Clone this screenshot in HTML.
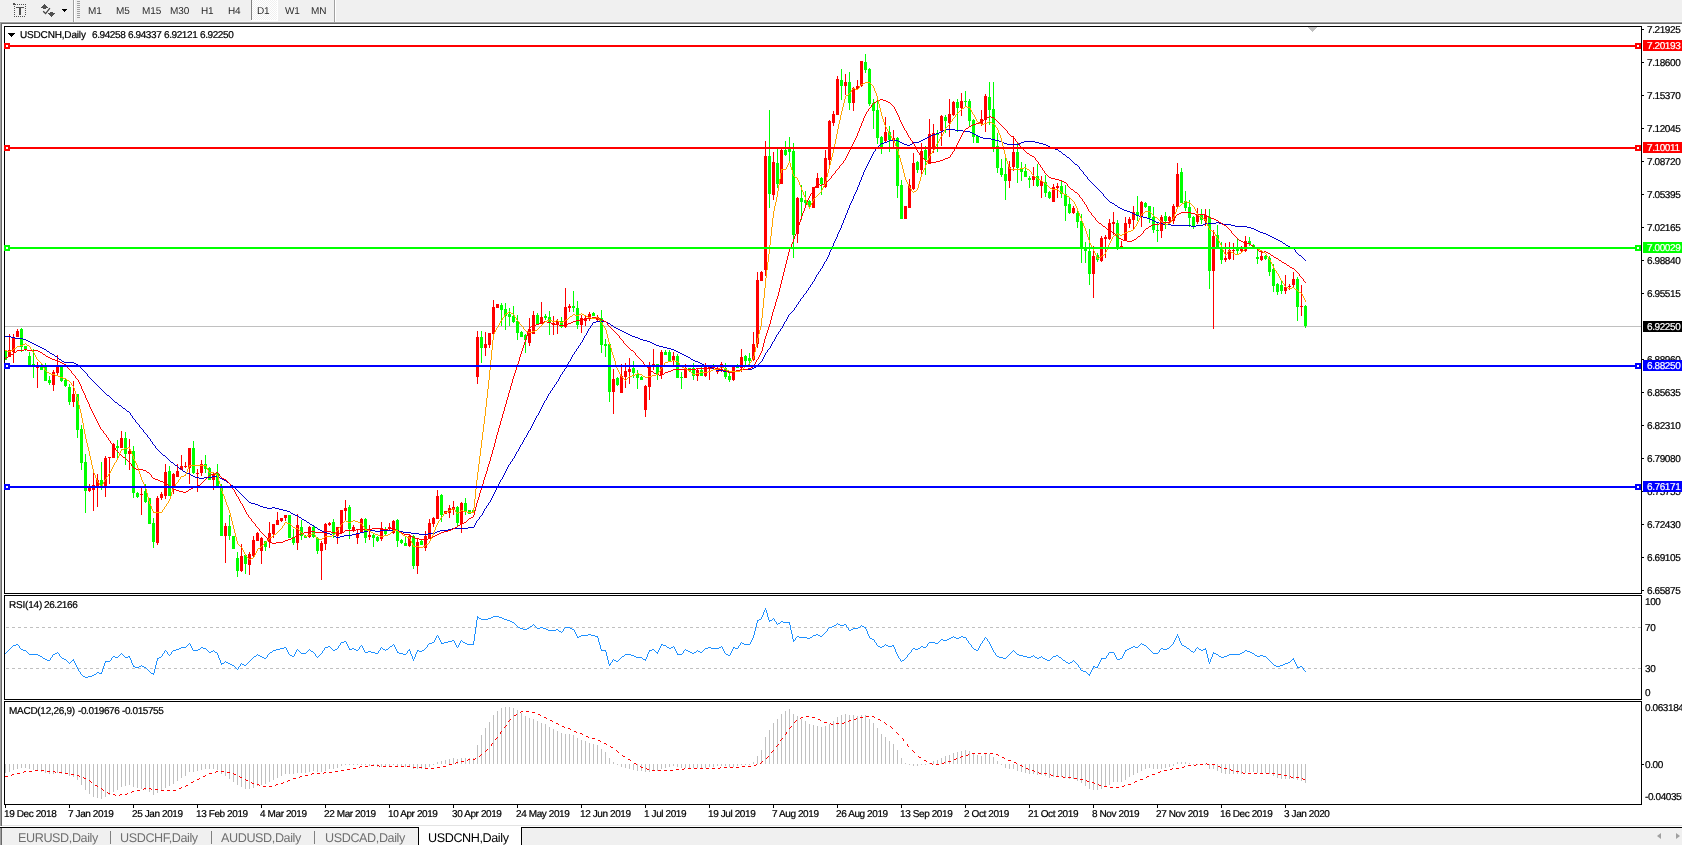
<!DOCTYPE html><html><head><meta charset="utf-8"><title>USDCNH,Daily</title><style>
html,body{margin:0;padding:0}
body{width:1682px;height:845px;overflow:hidden;background:#f0f0f0;font-family:"Liberation Sans", sans-serif;position:relative;text-rendering:geometricPrecision}
.a{position:absolute;white-space:nowrap}
.t{font-size:10px;color:#000;line-height:11px;letter-spacing:-0.4px;margin-top:1px;-webkit-text-stroke:0.22px #000}
.w{letter-spacing:-0.17px}
.tb{font-size:10px;color:#2a2a2a;line-height:12px;top:6px;will-change:opacity;opacity:.999;letter-spacing:-0.1px}
.tab{font-size:12.6px;color:#707070;line-height:14px;top:831px;letter-spacing:-0.4px}
.pl{left:1647px}
.box{-webkit-text-stroke:0.22px #fff;margin-top:0;padding-top:1px;left:1643px;width:39px;height:11px;color:#fff;padding-left:4px;box-sizing:border-box}
svg{position:absolute;left:0;top:0}

</style></head><body>
<div class="a" style="left:0;top:21px;width:1682px;height:1px;background:#f8f8f8"></div>
<div class="a" style="left:0;top:22px;width:1682px;height:1px;background:#a0a0a0"></div>
<div class="a" style="left:1px;top:23px;width:1681px;height:1px;background:#696969"></div>
<div class="a" style="left:0;top:22px;width:1px;height:805px;background:#a0a0a0"></div>
<div class="a" style="left:1px;top:23px;width:1px;height:804px;background:#696969"></div>
<div class="a" style="left:2px;top:24px;width:1680px;height:802px;background:#fff"></div>
<div class="a" style="left:2px;top:825px;width:1680px;height:1px;background:#e3e3e3"></div>
<div class="a" style="left:0;top:826px;width:1682px;height:1px;background:#fff"></div>
<div class="a" style="left:0;top:827px;width:1682px;height:1px;background:#000"></div>
<div class="a" style="left:0;top:828px;width:1px;height:17px;background:#a0a0a0"></div><div class="a" style="left:1px;top:828px;width:1px;height:17px;background:#696969"></div>
<div class="a" style="left:73px;top:0;width:1px;height:22px;background:#a0a0a0"></div><div class="a" style="left:74px;top:0;width:1px;height:22px;background:#fff"></div>
<div class="a" style="left:77px;top:1px;width:3px;height:18px;background:repeating-linear-gradient(#a0a0a0 0 1px,#f0f0f0 1px 2px)"></div>
<div class="a" style="left:251px;top:0;width:26px;height:20px;background:repeating-conic-gradient(#fff 0 25%,#f0f0f0 0 50%) 0 0/2px 2px;border-left:1px solid #808080;box-sizing:border-box"></div><div class="a" style="left:251px;top:20px;width:27px;height:1px;background:#fff"></div><div class="a" style="left:277px;top:0;width:1px;height:20px;background:#fff"></div>
<div class="a" style="left:334px;top:0;width:1px;height:22px;background:#a0a0a0"></div><div class="a" style="left:335px;top:0;width:1px;height:22px;background:#fff"></div>
<div class="a tb" style="left:88px">M1</div>
<div class="a tb" style="left:116px">M5</div>
<div class="a tb" style="left:142px">M15</div>
<div class="a tb" style="left:170px">M30</div>
<div class="a tb" style="left:201px">H1</div>
<div class="a tb" style="left:228px">H4</div>
<div class="a tb" style="left:257px">D1</div>
<div class="a tb" style="left:285px">W1</div>
<div class="a tb" style="left:311px">MN</div>
<svg width="72" height="22" viewBox="0 0 72 22" shape-rendering="crispEdges"><path d="M13 3h2v1h-2zM13 4h3v1h-3zM17 4h1v1h-1zM19 4h1v1h-1zM21 4h1v1h-1zM23 4h1v1h-1zM25 4h1v1h-1zM14 6h1v1h-1zM14 8h1v1h-1zM14 10h1v1h-1zM14 12h1v1h-1zM14 14h1v1h-1zM14 16h1v1h-1zM25 6h1v1h-1zM25 8h1v1h-1zM25 10h1v1h-1zM25 12h1v1h-1zM25 14h1v1h-1zM16 16h1v1h-1zM18 16h1v1h-1zM20 16h1v1h-1zM22 16h1v1h-1zM24 16h1v1h-1z" fill="#505050"/><path d="M16 7h8v1h-8zM19 8h2v7h-2z" fill="#505050"/><path d="M44 4h1v1h-1zM43 5h3v1h-3zM42 6h5v1h-5zM41 7h7v1h-7zM43 8h3v1h-3z" fill="#505050"/><path d="M50 12h3v1h-3zM48 13h7v1h-7zM49 14h5v1h-5zM50 15h3v1h-3zM51 16h1v1h-1z" fill="#505050"/><path d="M43.2 11.2l2.4 2.4l4.3-5.4" fill="none" stroke="#404040" stroke-width="1.3" shape-rendering="auto"/><path d="M62 9h5v1h-5zM63 10h3v1h-3zM64 11h1v1h-1z" fill="#000"/></svg>
<svg width="1682" height="845" viewBox="0 0 1682 845" shape-rendering="crispEdges"><rect x="5" y="326" width="1636" height="1" fill="#c0c0c0"/><path d="M5 351h1v9h-1zM4 351h3v9h-3zM21 328h1v24h-1zM20 329h3v18h-3zM25 346h1v5h-1zM24 346h3v4h-3zM29 352h1v13h-1zM28 356h3v9h-3zM33 349h1v29h-1zM32 364h3v2h-3zM41 363h1v7h-1zM40 366h3v4h-3zM45 363h1v18h-1zM44 367h3v14h-3zM49 376h1v9h-1zM48 380h3v3h-3zM61 367h1v15h-1zM60 367h3v14h-3zM65 378h1v9h-1zM64 380h3v6h-3zM69 384h1v21h-1zM68 387h3v15h-3zM77 394h1v44h-1zM76 394h3v36h-3zM81 425h1v45h-1zM80 429h3v34h-3zM85 454h1v59h-1zM84 462h3v29h-3zM101 462h1v28h-1zM100 480h3v6h-3zM117 440h1v18h-1zM116 446h3v2h-3zM125 432h1v33h-1zM124 438h3v16h-3zM133 446h1v52h-1zM132 451h3v42h-3zM137 492h1v6h-1zM136 493h3v4h-3zM145 484h1v19h-1zM144 491h3v11h-3zM149 498h1v26h-1zM148 498h3v26h-3zM153 518h1v30h-1zM152 523h3v19h-3zM169 466h1v30h-1zM168 471h3v25h-3zM193 441h1v33h-1zM192 448h3v25h-3zM205 455h1v18h-1zM204 464h3v5h-3zM209 467h1v13h-1zM208 468h3v12h-3zM217 464h1v22h-1zM216 473h3v13h-3zM221 484h1v52h-1zM220 486h3v50h-3zM229 515h1v25h-1zM228 526h3v10h-3zM233 536h1v13h-1zM232 536h3v13h-3zM237 552h1v25h-1zM236 558h3v13h-3zM245 554h1v20h-1zM244 555h3v9h-3zM265 541h1v10h-1zM264 541h3v6h-3zM289 515h1v23h-1zM288 515h3v23h-3zM293 529h1v16h-1zM292 537h3v6h-3zM301 520h1v20h-1zM300 527h3v9h-3zM305 535h1v3h-1zM304 536h3v2h-3zM313 526h1v12h-1zM312 527h3v10h-3zM317 537h1v17h-1zM316 538h3v13h-3zM333 519h1v19h-1zM332 522h3v12h-3zM349 505h1v34h-1zM348 507h3v22h-3zM365 518h1v25h-1zM364 519h3v19h-3zM373 533h1v14h-1zM372 535h3v3h-3zM377 536h1v6h-1zM376 537h3v4h-3zM385 527h1v8h-1zM384 530h3v4h-3zM397 519h1v28h-1zM396 520h3v21h-3zM401 539h1v5h-1zM400 540h3v3h-3zM405 537h1v9h-1zM404 543h3v3h-3zM413 535h1v34h-1zM412 536h3v30h-3zM421 539h1v6h-1zM420 541h3v4h-3zM441 494h1v28h-1zM440 495h3v20h-3zM457 506h1v20h-1zM456 507h3v16h-3zM465 498h1v17h-1zM464 503h3v8h-3zM469 510h1v4h-1zM468 510h3v4h-3zM473 509h1v4h-1zM472 510h3v2h-3zM481 331h1v32h-1zM480 337h3v11h-3zM501 303h1v23h-1zM500 305h3v5h-3zM505 303h1v27h-1zM504 309h3v7h-3zM509 308h1v18h-1zM508 314h3v3h-3zM513 306h1v17h-1zM512 316h3v6h-3zM517 315h1v25h-1zM516 321h3v12h-3zM521 331h1v6h-1zM520 332h3v5h-3zM525 334h1v19h-1zM524 335h3v5h-3zM537 313h1v11h-1zM536 315h3v9h-3zM545 314h1v6h-1zM544 316h3v2h-3zM549 311h1v24h-1zM548 317h3v6h-3zM561 317h1v11h-1zM560 321h3v6h-3zM573 291h1v21h-1zM572 306h3v2h-3zM577 301h1v28h-1zM576 308h3v17h-3zM593 312h1v4h-1zM592 313h3v3h-3zM601 310h1v43h-1zM600 318h3v27h-3zM605 339h1v18h-1zM604 344h3v2h-3zM609 344h1v58h-1zM608 344h3v48h-3zM617 377h1v9h-1zM616 378h3v7h-3zM633 361h1v17h-1zM632 368h3v5h-3zM637 370h1v19h-1zM636 374h3v4h-3zM641 376h1v4h-1zM640 377h3v3h-3zM657 364h1v16h-1zM656 364h3v10h-3zM665 350h1v5h-1zM664 352h3v3h-3zM669 350h1v12h-1zM668 352h3v9h-3zM677 354h1v24h-1zM676 356h3v22h-3zM681 372h1v17h-1zM680 377h3v1h-3zM689 368h1v4h-1zM688 368h3v3h-3zM693 363h1v17h-1zM692 368h3v8h-3zM701 367h1v9h-1zM700 370h3v6h-3zM713 364h1v4h-1zM712 365h3v3h-3zM725 363h1v16h-1zM724 368h3v9h-3zM729 372h1v10h-1zM728 376h3v4h-3zM737 364h1v4h-1zM736 365h3v3h-3zM745 355h1v10h-1zM744 356h3v5h-3zM749 353h1v13h-1zM748 358h3v3h-3zM769 110h1v98h-1zM768 156h3v38h-3zM777 149h1v39h-1zM776 163h3v21h-3zM785 141h1v15h-1zM784 150h3v5h-3zM789 137h1v24h-1zM788 148h3v4h-3zM793 143h1v115h-1zM792 151h3v84h-3zM801 185h1v35h-1zM800 198h3v4h-3zM805 191h1v15h-1zM804 200h3v3h-3zM809 200h1v7h-1zM808 201h3v4h-3zM821 177h1v18h-1zM820 178h3v6h-3zM841 69h1v31h-1zM840 80h3v6h-3zM849 72h1v38h-1zM848 82h3v21h-3zM865 54h1v19h-1zM864 62h3v8h-3zM869 68h1v38h-1zM868 69h3v35h-3zM873 99h1v30h-1zM872 103h3v8h-3zM877 101h1v43h-1zM876 110h3v28h-3zM881 136h1v18h-1zM880 137h3v10h-3zM889 126h1v26h-1zM888 132h3v8h-3zM897 137h1v61h-1zM896 138h3v48h-3zM901 180h1v39h-1zM900 185h3v34h-3zM917 161h1v12h-1zM916 162h3v8h-3zM925 146h1v29h-1zM924 150h3v10h-3zM937 130h1v22h-1zM936 133h3v2h-3zM945 115h1v18h-1zM944 117h3v4h-3zM957 99h1v33h-1zM956 102h3v6h-3zM965 91h1v15h-1zM964 101h3v1h-3zM969 99h1v27h-1zM968 101h3v20h-3zM973 119h1v24h-1zM972 120h3v17h-3zM977 135h1v8h-1zM976 136h3v7h-3zM989 82h1v43h-1zM988 97h3v13h-3zM993 82h1v70h-1zM992 109h3v38h-3zM997 133h1v40h-1zM996 146h3v22h-3zM1001 159h1v18h-1zM1000 168h3v7h-3zM1005 156h1v44h-1zM1004 174h3v7h-3zM1017 143h1v40h-1zM1016 152h3v16h-3zM1021 162h1v19h-1zM1020 168h3v4h-3zM1025 164h1v13h-1zM1024 171h3v6h-3zM1029 176h1v12h-1zM1028 178h3v2h-3zM1037 164h1v23h-1zM1036 176h3v10h-3zM1045 175h1v22h-1zM1044 182h3v11h-3zM1049 191h1v8h-1zM1048 192h3v6h-3zM1061 180h1v18h-1zM1060 186h3v8h-3zM1065 185h1v36h-1zM1064 194h3v12h-3zM1069 198h1v16h-1zM1068 204h3v9h-3zM1077 210h1v18h-1zM1076 213h3v9h-3zM1081 214h1v49h-1zM1080 221h3v27h-3zM1085 242h1v21h-1zM1084 248h3v3h-3zM1089 229h1v56h-1zM1088 251h3v23h-3zM1097 253h1v9h-1zM1096 255h3v5h-3zM1117 220h1v30h-1zM1116 223h3v24h-3zM1137 196h1v25h-1zM1136 212h3v4h-3zM1145 202h1v6h-1zM1144 203h3v4h-3zM1149 206h1v17h-1zM1148 206h3v12h-3zM1153 207h1v26h-1zM1152 217h3v13h-3zM1157 223h1v19h-1zM1156 230h3v1h-3zM1165 212h1v17h-1zM1164 216h3v5h-3zM1181 168h1v35h-1zM1180 172h3v31h-3zM1185 191h1v20h-1zM1184 201h3v7h-3zM1189 200h1v27h-1zM1188 207h3v11h-3zM1193 216h1v13h-1zM1192 217h3v9h-3zM1201 209h1v15h-1zM1200 214h3v6h-3zM1209 209h1v80h-1zM1208 217h3v54h-3zM1217 225h1v23h-1zM1216 235h3v13h-3zM1221 242h1v22h-1zM1220 248h3v12h-3zM1237 238h1v17h-1zM1236 248h3v3h-3zM1249 237h1v9h-1zM1248 241h3v3h-3zM1253 244h1v5h-1zM1252 245h3v3h-3zM1257 249h1v15h-1zM1256 257h3v2h-3zM1265 255h1v5h-1zM1264 256h3v3h-3zM1269 256h1v20h-1zM1268 258h3v14h-3zM1273 264h1v28h-1zM1272 269h3v17h-3zM1277 283h1v12h-1zM1276 284h3v8h-3zM1281 280h1v14h-1zM1280 285h3v6h-3zM1297 277h1v44h-1zM1296 279h3v28h-3zM1305 305h1v23h-1zM1304 306h3v20h-3z" fill="#00ff00"/><path d="M9 334h1v23h-1zM8 350h3v7h-3zM13 334h1v29h-1zM12 337h3v15h-3zM17 329h1v8h-1zM16 331h3v6h-3zM37 362h1v26h-1zM36 366h3v2h-3zM53 370h1v21h-1zM52 372h3v13h-3zM57 355h1v21h-1zM56 367h3v6h-3zM73 381h1v26h-1zM72 394h3v8h-3zM89 484h1v8h-1zM88 488h3v3h-3zM93 473h1v38h-1zM92 485h3v5h-3zM97 474h1v33h-1zM96 480h3v6h-3zM105 456h1v41h-1zM104 458h3v28h-3zM109 457h1v27h-1zM108 457h3v1h-3zM113 443h1v15h-1zM112 444h3v14h-3zM121 431h1v17h-1zM120 438h3v10h-3zM129 439h1v31h-1zM128 451h3v3h-3zM141 488h1v27h-1zM140 494h3v1h-3zM157 496h1v49h-1zM156 498h3v45h-3zM161 492h1v8h-1zM160 494h3v4h-3zM165 464h1v35h-1zM164 472h3v24h-3zM173 473h1v21h-1zM172 474h3v13h-3zM177 464h1v13h-1zM176 471h3v6h-3zM181 455h1v15h-1zM180 466h3v4h-3zM185 462h1v6h-1zM184 466h3v1h-3zM189 448h1v36h-1zM188 448h3v20h-3zM197 469h1v23h-1zM196 473h3v1h-3zM201 460h1v16h-1zM200 464h3v9h-3zM213 473h1v17h-1zM212 474h3v6h-3zM225 523h1v40h-1zM224 526h3v10h-3zM241 544h1v28h-1zM240 556h3v15h-3zM249 552h1v23h-1zM248 554h3v11h-3zM253 536h1v22h-1zM252 540h3v16h-3zM257 532h1v9h-1zM256 533h3v8h-3zM261 537h1v27h-1zM260 538h3v13h-3zM269 522h1v26h-1zM268 533h3v9h-3zM273 524h1v14h-1zM272 524h3v10h-3zM277 512h1v13h-1zM276 520h3v5h-3zM281 518h1v4h-1zM280 518h3v3h-3zM285 515h1v6h-1zM284 515h3v3h-3zM297 514h1v36h-1zM296 525h3v18h-3zM309 526h1v12h-1zM308 527h3v10h-3zM321 541h1v39h-1zM320 543h3v8h-3zM325 523h1v27h-1zM324 524h3v20h-3zM329 522h1v4h-1zM328 523h3v2h-3zM337 527h1v17h-1zM336 527h3v9h-3zM341 510h1v24h-1zM340 510h3v23h-3zM345 500h1v20h-1zM344 508h3v3h-3zM353 525h1v7h-1zM352 527h3v3h-3zM357 529h1v15h-1zM356 533h3v5h-3zM361 518h1v15h-1zM360 519h3v13h-3zM369 525h1v15h-1zM368 535h3v2h-3zM381 522h1v19h-1zM380 528h3v11h-3zM389 523h1v7h-1zM388 527h3v2h-3zM393 520h1v14h-1zM392 521h3v12h-3zM409 534h1v13h-1zM408 536h3v10h-3zM417 538h1v36h-1zM416 542h3v24h-3zM425 531h1v20h-1zM424 536h3v12h-3zM429 519h1v20h-1zM428 523h3v15h-3zM433 517h1v10h-1zM432 518h3v6h-3zM437 490h1v29h-1zM436 496h3v23h-3zM445 511h1v3h-1zM444 511h3v3h-3zM449 505h1v13h-1zM448 508h3v5h-3zM453 501h1v14h-1zM452 507h3v2h-3zM461 502h1v31h-1zM460 503h3v21h-3zM477 331h1v53h-1zM476 337h3v40h-3zM485 332h1v24h-1zM484 344h3v4h-3zM489 333h1v15h-1zM488 333h3v12h-3zM493 300h1v34h-1zM492 307h3v27h-3zM497 304h1v4h-1zM496 304h3v4h-3zM529 318h1v28h-1zM528 329h3v14h-3zM533 311h1v23h-1zM532 315h3v19h-3zM541 302h1v22h-1zM540 317h3v7h-3zM553 316h1v19h-1zM552 323h3v2h-3zM557 319h1v15h-1zM556 321h3v4h-3zM565 288h1v40h-1zM564 307h3v20h-3zM569 304h1v8h-1zM568 306h3v2h-3zM581 315h1v18h-1zM580 318h3v7h-3zM585 315h1v11h-1zM584 318h3v3h-3zM589 312h1v9h-1zM588 314h3v3h-3zM597 315h1v6h-1zM596 317h3v3h-3zM613 369h1v45h-1zM612 379h3v13h-3zM621 364h1v29h-1zM620 376h3v17h-3zM625 363h1v25h-1zM624 371h3v6h-3zM629 358h1v26h-1zM628 369h3v3h-3zM645 385h1v32h-1zM644 386h3v24h-3zM649 362h1v38h-1zM648 366h3v21h-3zM653 349h1v21h-1zM652 364h3v2h-3zM661 350h1v29h-1zM660 352h3v23h-3zM673 352h1v14h-1zM672 356h3v4h-3zM685 364h1v14h-1zM684 368h3v10h-3zM697 368h1v13h-1zM696 370h3v6h-3zM705 363h1v14h-1zM704 367h3v9h-3zM709 365h1v15h-1zM708 366h3v2h-3zM717 366h1v8h-1zM716 368h3v4h-3zM721 362h1v10h-1zM720 364h3v3h-3zM733 366h1v15h-1zM732 367h3v13h-3zM741 349h1v23h-1zM740 357h3v11h-3zM753 332h1v29h-1zM752 344h3v16h-3zM757 272h1v76h-1zM756 280h3v64h-3zM761 271h1v10h-1zM760 272h3v9h-3zM765 141h1v135h-1zM764 156h3v114h-3zM773 152h1v48h-1zM772 162h3v33h-3zM781 149h1v35h-1zM780 150h3v34h-3zM797 197h1v46h-1zM796 198h3v36h-3zM813 187h1v21h-1zM812 187h3v21h-3zM817 173h1v15h-1zM816 178h3v10h-3zM825 150h1v38h-1zM824 158h3v29h-3zM829 120h1v45h-1zM828 121h3v39h-3zM833 111h1v15h-1zM832 114h3v9h-3zM837 76h1v39h-1zM836 79h3v36h-3zM845 74h1v21h-1zM844 82h3v4h-3zM853 87h1v24h-1zM852 88h3v15h-3zM857 80h1v10h-1zM856 86h3v3h-3zM861 61h1v26h-1zM860 61h3v25h-3zM885 117h1v25h-1zM884 132h3v9h-3zM893 130h1v18h-1zM892 138h3v2h-3zM905 206h1v13h-1zM904 206h3v13h-3zM909 179h1v29h-1zM908 185h3v23h-3zM913 153h1v37h-1zM912 163h3v26h-3zM921 143h1v34h-1zM920 151h3v19h-3zM929 119h1v45h-1zM928 134h3v30h-3zM933 124h1v29h-1zM932 133h3v15h-3zM941 115h1v31h-1zM940 116h3v15h-3zM949 99h1v38h-1zM948 114h3v9h-3zM953 101h1v15h-1zM952 102h3v13h-3zM961 93h1v23h-1zM960 101h3v7h-3zM981 110h1v16h-1zM980 119h3v5h-3zM985 94h1v38h-1zM984 96h3v24h-3zM1009 161h1v27h-1zM1008 167h3v14h-3zM1013 136h1v35h-1zM1012 152h3v15h-3zM1033 167h1v19h-1zM1032 176h3v4h-3zM1041 176h1v22h-1zM1040 181h3v5h-3zM1053 184h1v18h-1zM1052 187h3v15h-3zM1057 183h1v15h-1zM1056 186h3v2h-3zM1073 206h1v8h-1zM1072 208h3v5h-3zM1093 246h1v52h-1zM1092 256h3v18h-3zM1101 236h1v26h-1zM1100 238h3v23h-3zM1105 235h1v23h-1zM1104 237h3v2h-3zM1109 219h1v21h-1zM1108 223h3v16h-3zM1113 212h1v23h-1zM1112 222h3v2h-3zM1121 241h1v7h-1zM1120 246h3v1h-3zM1125 217h1v24h-1zM1124 223h3v17h-3zM1129 217h1v11h-1zM1128 219h3v5h-3zM1133 206h1v24h-1zM1132 212h3v8h-3zM1141 201h1v26h-1zM1140 202h3v15h-3zM1161 215h1v23h-1zM1160 217h3v14h-3zM1169 216h1v6h-1zM1168 217h3v4h-3zM1173 204h1v20h-1zM1172 206h3v15h-3zM1177 163h1v44h-1zM1176 174h3v33h-3zM1197 208h1v16h-1zM1196 214h3v8h-3zM1205 209h1v17h-1zM1204 215h3v6h-3zM1213 230h1v99h-1zM1212 236h3v35h-3zM1225 243h1v19h-1zM1224 258h3v2h-3zM1229 242h1v18h-1zM1228 250h3v9h-3zM1233 243h1v17h-1zM1232 250h3v1h-3zM1241 246h1v6h-1zM1240 249h3v2h-3zM1245 236h1v16h-1zM1244 241h3v10h-3zM1261 251h1v10h-1zM1260 256h3v4h-3zM1285 275h1v19h-1zM1284 287h3v4h-3zM1289 284h1v6h-1zM1288 286h3v1h-3zM1293 272h1v15h-1zM1292 279h3v6h-3zM1301 285h1v31h-1zM1300 306h3v1h-3z" fill="#ff0000"/><path d="M87 374h1v2h-1zM130 413h1v2h-1zM132 416h1v2h-1zM135 420h1v2h-1zM139 425h1v2h-1zM143 430h1v2h-1zM147 435h1v2h-1zM150 439h1v2h-1zM152 442h1v2h-1zM155 446h1v2h-1zM474 525h1v2h-1zM475 523h1v2h-1zM476 521h1v2h-1zM479 517h1v2h-1zM482 513h1v2h-1zM483 511h1v2h-1zM484 509h1v2h-1zM486 506h1v2h-1zM488 503h1v2h-1zM490 500h1v2h-1zM491 498h1v2h-1zM492 496h1v2h-1zM493 494h1v2h-1zM494 492h1v2h-1zM495 490h1v2h-1zM496 488h1v2h-1zM497 486h1v2h-1zM498 484h1v2h-1zM499 482h1v2h-1zM500 480h1v2h-1zM502 477h1v2h-1zM503 475h1v2h-1zM504 473h1v2h-1zM505 471h1v2h-1zM506 469h1v2h-1zM507 467h1v2h-1zM508 465h1v2h-1zM510 462h1v2h-1zM512 459h1v2h-1zM514 456h1v2h-1zM515 454h1v2h-1zM516 452h1v2h-1zM518 449h1v2h-1zM519 447h1v2h-1zM520 445h1v2h-1zM522 442h1v2h-1zM523 440h1v2h-1zM524 438h1v2h-1zM526 435h1v2h-1zM527 433h1v2h-1zM528 431h1v2h-1zM530 428h1v2h-1zM531 426h1v2h-1zM532 424h1v2h-1zM533 422h1v2h-1zM534 420h1v2h-1zM535 418h1v2h-1zM536 416h1v2h-1zM538 413h1v2h-1zM539 411h1v2h-1zM540 409h1v2h-1zM541 407h1v2h-1zM542 405h1v2h-1zM543 403h1v2h-1zM544 401h1v2h-1zM546 398h1v2h-1zM547 396h1v2h-1zM548 394h1v2h-1zM550 391h1v2h-1zM552 388h1v2h-1zM554 385h1v2h-1zM556 382h1v2h-1zM558 379h1v2h-1zM559 377h1v2h-1zM560 375h1v2h-1zM562 372h1v2h-1zM564 369h1v2h-1zM566 366h1v2h-1zM567 364h1v2h-1zM568 362h1v2h-1zM570 359h1v2h-1zM571 357h1v2h-1zM572 355h1v2h-1zM574 352h1v2h-1zM576 349h1v2h-1zM578 346h1v2h-1zM580 343h1v2h-1zM582 340h1v2h-1zM583 338h1v2h-1zM584 336h1v2h-1zM586 333h1v2h-1zM587 331h1v2h-1zM588 329h1v2h-1zM590 326h1v2h-1zM592 323h1v2h-1zM762 359h1v2h-1zM763 357h1v2h-1zM764 355h1v2h-1zM765 353h1v2h-1zM767 350h1v2h-1zM770 346h1v2h-1zM771 344h1v2h-1zM772 342h1v2h-1zM774 339h1v2h-1zM775 337h1v2h-1zM776 335h1v2h-1zM778 332h1v2h-1zM780 329h1v2h-1zM782 326h1v2h-1zM783 324h1v2h-1zM784 322h1v2h-1zM786 319h1v2h-1zM787 317h1v2h-1zM788 315h1v2h-1zM794 308h1v2h-1zM796 305h1v2h-1zM798 302h1v2h-1zM800 299h1v2h-1zM803 295h1v2h-1zM806 291h1v2h-1zM808 288h1v2h-1zM810 285h1v2h-1zM812 282h1v2h-1zM814 279h1v2h-1zM815 277h1v2h-1zM816 275h1v2h-1zM818 272h1v2h-1zM820 269h1v2h-1zM822 266h1v2h-1zM823 264h1v2h-1zM824 262h1v2h-1zM826 259h1v2h-1zM827 257h1v2h-1zM828 255h1v2h-1zM829 252h1v3h-1zM830 250h1v2h-1zM831 248h1v2h-1zM832 246h1v2h-1zM833 243h1v3h-1zM834 241h1v2h-1zM835 239h1v2h-1zM836 237h1v2h-1zM837 234h1v3h-1zM838 232h1v2h-1zM839 230h1v2h-1zM840 228h1v2h-1zM841 225h1v3h-1zM842 223h1v2h-1zM843 220h1v3h-1zM844 218h1v2h-1zM845 215h1v3h-1zM846 213h1v2h-1zM847 210h1v3h-1zM848 208h1v2h-1zM849 205h1v3h-1zM850 203h1v2h-1zM851 201h1v2h-1zM852 199h1v2h-1zM853 196h1v3h-1zM854 194h1v2h-1zM855 192h1v2h-1zM856 190h1v2h-1zM857 187h1v3h-1zM858 185h1v2h-1zM859 182h1v3h-1zM860 180h1v2h-1zM861 177h1v3h-1zM862 175h1v2h-1zM863 172h1v3h-1zM864 170h1v2h-1zM865 168h1v2h-1zM866 166h1v2h-1zM867 164h1v2h-1zM868 162h1v2h-1zM869 160h1v2h-1zM870 158h1v2h-1zM871 156h1v2h-1zM872 154h1v2h-1zM873 152h1v2h-1zM875 149h1v2h-1zM1079 167h1v2h-1zM1083 172h1v2h-1zM1087 177h1v2h-1zM1103 194h1v2h-1zM1295 250h1v2h-1zM945 129h10v1h-10zM943 130h2v1h-2zM955 130h8v1h-8zM941 131h2v1h-2zM963 131h7v1h-7zM939 132h2v1h-2zM970 132h2v1h-2zM936 133h3v1h-3zM972 133h2v1h-2zM933 134h3v1h-3zM974 134h2v1h-2zM931 135h2v1h-2zM976 135h2v1h-2zM929 136h2v1h-2zM978 136h2v1h-2zM927 137h2v1h-2zM980 137h3v1h-3zM925 138h2v1h-2zM983 138h8v1h-8zM923 139h2v1h-2zM991 139h4v1h-4zM889 140h9v1h-9zM921 140h2v1h-2zM995 140h4v1h-4zM887 141h2v1h-2zM898 141h2v1h-2zM919 141h2v1h-2zM999 141h3v1h-3zM1024 141h11v1h-11zM884 142h3v1h-3zM900 142h2v1h-2zM913 142h6v1h-6zM1002 142h2v1h-2zM1021 142h3v1h-3zM1035 142h4v1h-4zM881 143h3v1h-3zM902 143h2v1h-2zM912 143h1v1h-1zM1004 143h3v1h-3zM1019 143h2v1h-2zM1039 143h4v1h-4zM880 144h1v1h-1zM904 144h3v1h-3zM910 144h2v1h-2zM1007 144h12v1h-12zM1043 144h3v1h-3zM879 145h1v1h-1zM907 145h3v1h-3zM1046 145h2v1h-2zM878 146h1v1h-1zM1048 146h2v1h-2zM877 147h1v1h-1zM1050 147h2v1h-2zM876 148h1v1h-1zM1052 148h3v1h-3zM1055 149h3v1h-3zM1058 150h1v1h-1zM874 151h1v1h-1zM1059 151h2v1h-2zM1061 152h1v1h-1zM1062 153h1v1h-1zM1063 154h2v1h-2zM1065 155h1v1h-1zM1066 156h1v1h-1zM1067 157h2v1h-2zM1069 158h1v1h-1zM1070 159h1v1h-1zM1071 160h1v1h-1zM1072 161h1v1h-1zM1073 162h1v1h-1zM1074 163h1v1h-1zM1075 164h2v1h-2zM1077 165h1v1h-1zM1078 166h1v1h-1zM1080 169h1v1h-1zM1081 170h1v1h-1zM1082 171h1v1h-1zM1084 174h1v1h-1zM1085 175h1v1h-1zM1086 176h1v1h-1zM1088 179h1v1h-1zM1089 180h1v1h-1zM1090 181h1v1h-1zM1091 182h1v1h-1zM1092 183h1v1h-1zM1093 184h1v1h-1zM1094 185h1v1h-1zM1095 186h1v1h-1zM1096 187h1v1h-1zM1097 188h1v1h-1zM1098 189h1v1h-1zM1099 190h1v1h-1zM1100 191h1v1h-1zM1101 192h1v1h-1zM1102 193h1v1h-1zM1104 196h1v1h-1zM1105 197h1v1h-1zM1106 198h1v1h-1zM1107 199h1v1h-1zM1108 200h1v1h-1zM1109 201h1v1h-1zM1110 202h2v1h-2zM1112 203h2v1h-2zM1114 204h1v1h-1zM1115 205h2v1h-2zM1117 206h1v1h-1zM1118 207h2v1h-2zM1120 208h2v1h-2zM1122 209h2v1h-2zM1124 210h3v1h-3zM1127 211h3v1h-3zM1130 212h2v1h-2zM1132 213h2v1h-2zM1134 214h2v1h-2zM1136 215h3v1h-3zM1139 216h4v1h-4zM1143 217h4v1h-4zM1147 218h3v1h-3zM1150 219h2v1h-2zM1152 220h2v1h-2zM1154 221h2v1h-2zM1156 222h3v1h-3zM1216 222h3v1h-3zM1159 223h4v1h-4zM1205 223h11v1h-11zM1219 223h4v1h-4zM1163 224h8v1h-8zM1203 224h2v1h-2zM1223 224h8v1h-8zM1171 225h20v1h-20zM1196 225h7v1h-7zM1231 225h4v1h-4zM1191 226h5v1h-5zM1235 226h12v1h-12zM1247 227h4v1h-4zM1251 228h3v1h-3zM1254 229h2v1h-2zM1256 230h2v1h-2zM1258 231h2v1h-2zM1260 232h3v1h-3zM1263 233h3v1h-3zM1266 234h2v1h-2zM1268 235h2v1h-2zM1270 236h2v1h-2zM1272 237h2v1h-2zM1274 238h2v1h-2zM1276 239h2v1h-2zM1278 240h2v1h-2zM1280 241h2v1h-2zM1282 242h1v1h-1zM1283 243h2v1h-2zM1285 244h1v1h-1zM1286 245h2v1h-2zM1288 246h2v1h-2zM1290 247h2v1h-2zM1292 248h2v1h-2zM1294 249h1v1h-1zM1296 252h1v1h-1zM1297 253h1v1h-1zM1298 254h1v1h-1zM1299 255h2v1h-2zM1301 256h1v1h-1zM1302 257h1v1h-1zM1303 258h1v1h-1zM1304 259h1v1h-1zM1305 260h1v1h-1zM825 261h1v1h-1zM821 268h1v1h-1zM819 271h1v1h-1zM817 274h1v1h-1zM813 281h1v1h-1zM811 284h1v1h-1zM809 287h1v1h-1zM807 290h1v1h-1zM805 293h1v1h-1zM804 294h1v1h-1zM802 297h1v1h-1zM801 298h1v1h-1zM799 301h1v1h-1zM797 304h1v1h-1zM795 307h1v1h-1zM793 310h1v1h-1zM792 311h1v1h-1zM791 312h1v1h-1zM790 313h1v1h-1zM789 314h1v1h-1zM596 321h10v1h-10zM785 321h1v1h-1zM593 322h3v1h-3zM606 322h2v1h-2zM608 323h2v1h-2zM610 324h1v1h-1zM591 325h1v1h-1zM611 325h2v1h-2zM613 326h1v1h-1zM614 327h2v1h-2zM589 328h1v1h-1zM616 328h2v1h-2zM781 328h1v1h-1zM618 329h2v1h-2zM620 330h2v1h-2zM622 331h2v1h-2zM779 331h1v1h-1zM624 332h2v1h-2zM626 333h2v1h-2zM628 334h2v1h-2zM777 334h1v1h-1zM585 335h1v1h-1zM630 335h2v1h-2zM5 336h6v1h-6zM632 336h3v1h-3zM11 337h4v1h-4zM635 337h3v1h-3zM15 338h8v1h-8zM638 338h2v1h-2zM23 339h3v1h-3zM640 339h3v1h-3zM26 340h2v1h-2zM643 340h4v1h-4zM28 341h2v1h-2zM647 341h3v1h-3zM773 341h1v1h-1zM30 342h2v1h-2zM581 342h1v1h-1zM650 342h2v1h-2zM32 343h2v1h-2zM652 343h2v1h-2zM34 344h2v1h-2zM654 344h2v1h-2zM36 345h2v1h-2zM579 345h1v1h-1zM656 345h3v1h-3zM38 346h2v1h-2zM659 346h4v1h-4zM40 347h2v1h-2zM663 347h4v1h-4zM42 348h2v1h-2zM577 348h1v1h-1zM667 348h4v1h-4zM769 348h1v1h-1zM44 349h2v1h-2zM671 349h3v1h-3zM768 349h1v1h-1zM46 350h1v1h-1zM674 350h2v1h-2zM47 351h2v1h-2zM575 351h1v1h-1zM676 351h2v1h-2zM49 352h1v1h-1zM678 352h2v1h-2zM766 352h1v1h-1zM50 353h2v1h-2zM680 353h2v1h-2zM52 354h2v1h-2zM573 354h1v1h-1zM682 354h2v1h-2zM54 355h1v1h-1zM684 355h2v1h-2zM55 356h2v1h-2zM686 356h2v1h-2zM57 357h1v1h-1zM688 357h2v1h-2zM58 358h1v1h-1zM690 358h1v1h-1zM59 359h2v1h-2zM691 359h2v1h-2zM61 360h1v1h-1zM693 360h2v1h-2zM62 361h2v1h-2zM569 361h1v1h-1zM695 361h3v1h-3zM761 361h1v1h-1zM64 362h10v1h-10zM698 362h2v1h-2zM760 362h1v1h-1zM74 363h2v1h-2zM700 363h2v1h-2zM759 363h1v1h-1zM76 364h2v1h-2zM702 364h2v1h-2zM758 364h1v1h-1zM78 365h1v1h-1zM704 365h3v1h-3zM757 365h1v1h-1zM79 366h1v1h-1zM707 366h3v1h-3zM756 366h1v1h-1zM80 367h1v1h-1zM710 367h2v1h-2zM754 367h2v1h-2zM81 368h1v1h-1zM565 368h1v1h-1zM712 368h2v1h-2zM752 368h2v1h-2zM82 369h1v1h-1zM714 369h2v1h-2zM740 369h12v1h-12zM83 370h1v1h-1zM716 370h7v1h-7zM736 370h4v1h-4zM84 371h1v1h-1zM563 371h1v1h-1zM723 371h13v1h-13zM85 372h1v1h-1zM86 373h1v1h-1zM561 374h1v1h-1zM88 376h1v1h-1zM89 377h1v1h-1zM90 378h1v1h-1zM91 379h1v1h-1zM92 380h1v1h-1zM93 381h1v1h-1zM557 381h1v1h-1zM94 382h1v1h-1zM95 383h1v1h-1zM96 384h1v1h-1zM555 384h1v1h-1zM97 385h1v1h-1zM98 386h1v1h-1zM99 387h1v1h-1zM553 387h1v1h-1zM100 388h1v1h-1zM101 389h1v1h-1zM102 390h1v1h-1zM551 390h1v1h-1zM103 391h1v1h-1zM104 392h1v1h-1zM105 393h1v1h-1zM549 393h1v1h-1zM106 394h1v1h-1zM107 395h2v1h-2zM109 396h1v1h-1zM110 397h1v1h-1zM111 398h1v1h-1zM112 399h1v1h-1zM113 400h1v1h-1zM545 400h1v1h-1zM114 401h1v1h-1zM115 402h2v1h-2zM117 403h1v1h-1zM118 404h1v1h-1zM119 405h2v1h-2zM121 406h1v1h-1zM122 407h1v1h-1zM123 408h2v1h-2zM125 409h1v1h-1zM126 410h1v1h-1zM127 411h2v1h-2zM129 412h1v1h-1zM131 415h1v1h-1zM537 415h1v1h-1zM133 418h1v1h-1zM134 419h1v1h-1zM136 422h1v1h-1zM137 423h1v1h-1zM138 424h1v1h-1zM140 427h1v1h-1zM141 428h1v1h-1zM142 429h1v1h-1zM529 430h1v1h-1zM144 432h1v1h-1zM145 433h1v1h-1zM146 434h1v1h-1zM148 437h1v1h-1zM525 437h1v1h-1zM149 438h1v1h-1zM151 441h1v1h-1zM153 444h1v1h-1zM521 444h1v1h-1zM154 445h1v1h-1zM156 448h1v1h-1zM157 449h1v1h-1zM158 450h1v1h-1zM159 451h1v1h-1zM517 451h1v1h-1zM160 452h1v1h-1zM161 453h1v1h-1zM162 454h1v1h-1zM163 455h2v1h-2zM165 456h1v1h-1zM166 457h1v1h-1zM167 458h1v1h-1zM513 458h1v1h-1zM168 459h1v1h-1zM169 460h1v1h-1zM170 461h1v1h-1zM511 461h1v1h-1zM171 462h2v1h-2zM173 463h1v1h-1zM174 464h1v1h-1zM509 464h1v1h-1zM175 465h2v1h-2zM177 466h1v1h-1zM178 467h1v1h-1zM179 468h2v1h-2zM181 469h1v1h-1zM182 470h1v1h-1zM183 471h2v1h-2zM185 472h2v1h-2zM187 473h3v1h-3zM190 474h1v1h-1zM191 475h2v1h-2zM193 476h2v1h-2zM212 476h6v1h-6zM195 477h4v1h-4zM204 477h8v1h-8zM218 477h2v1h-2zM199 478h5v1h-5zM220 478h2v1h-2zM222 479h2v1h-2zM501 479h1v1h-1zM224 480h2v1h-2zM226 481h1v1h-1zM227 482h2v1h-2zM229 483h1v1h-1zM230 484h1v1h-1zM231 485h2v1h-2zM233 486h1v1h-1zM234 487h1v1h-1zM235 488h1v1h-1zM236 489h1v1h-1zM237 490h1v1h-1zM238 491h1v1h-1zM239 492h1v1h-1zM240 493h1v1h-1zM241 494h1v1h-1zM242 495h1v1h-1zM243 496h1v1h-1zM244 497h1v1h-1zM245 498h1v1h-1zM246 499h1v1h-1zM247 500h1v1h-1zM248 501h1v1h-1zM249 502h2v1h-2zM489 502h1v1h-1zM251 503h4v1h-4zM255 504h3v1h-3zM258 505h2v1h-2zM487 505h1v1h-1zM260 506h3v1h-3zM263 507h4v1h-4zM272 507h3v1h-3zM267 508h5v1h-5zM275 508h4v1h-4zM485 508h1v1h-1zM279 509h4v1h-4zM283 510h4v1h-4zM287 511h3v1h-3zM290 512h1v1h-1zM291 513h2v1h-2zM293 514h2v1h-2zM295 515h3v1h-3zM481 515h1v1h-1zM298 516h1v1h-1zM480 516h1v1h-1zM299 517h2v1h-2zM301 518h1v1h-1zM302 519h2v1h-2zM478 519h1v1h-1zM304 520h2v1h-2zM477 520h1v1h-1zM306 521h1v1h-1zM307 522h2v1h-2zM309 523h1v1h-1zM310 524h2v1h-2zM312 525h2v1h-2zM314 526h1v1h-1zM315 527h2v1h-2zM468 527h6v1h-6zM317 528h1v1h-1zM452 528h16v1h-16zM318 529h2v1h-2zM448 529h4v1h-4zM320 530h2v1h-2zM368 530h7v1h-7zM380 530h19v1h-19zM440 530h8v1h-8zM322 531h2v1h-2zM364 531h4v1h-4zM375 531h5v1h-5zM399 531h4v1h-4zM437 531h3v1h-3zM324 532h3v1h-3zM360 532h4v1h-4zM403 532h8v1h-8zM435 532h2v1h-2zM327 533h3v1h-3zM356 533h4v1h-4zM411 533h8v1h-8zM428 533h7v1h-7zM330 534h2v1h-2zM352 534h4v1h-4zM419 534h9v1h-9zM332 535h2v1h-2zM344 535h8v1h-8zM334 536h2v1h-2zM340 536h4v1h-4zM336 537h4v1h-4z" fill="#0000cd"/><path d="M67 366h1v2h-1zM71 371h1v2h-1zM75 376h1v2h-1zM78 380h1v2h-1zM79 382h1v2h-1zM80 384h1v2h-1zM81 386h1v3h-1zM82 389h1v2h-1zM83 391h1v2h-1zM84 393h1v2h-1zM85 395h1v3h-1zM86 398h1v2h-1zM87 400h1v2h-1zM88 402h1v2h-1zM89 404h1v3h-1zM90 407h1v2h-1zM91 409h1v2h-1zM92 411h1v2h-1zM93 413h1v2h-1zM94 415h1v2h-1zM95 417h1v2h-1zM96 419h1v2h-1zM97 421h1v2h-1zM98 423h1v2h-1zM99 425h1v2h-1zM100 427h1v2h-1zM103 431h1v2h-1zM106 435h1v2h-1zM108 438h1v2h-1zM110 441h1v2h-1zM112 444h1v2h-1zM115 448h1v2h-1zM131 464h1v2h-1zM151 475h1v2h-1zM219 474h1v2h-1zM230 484h1v2h-1zM232 487h1v2h-1zM234 490h1v2h-1zM235 492h1v2h-1zM236 494h1v2h-1zM238 497h1v2h-1zM239 499h1v2h-1zM240 501h1v2h-1zM242 504h1v2h-1zM243 506h1v2h-1zM244 508h1v2h-1zM245 510h1v2h-1zM246 512h1v2h-1zM248 515h1v2h-1zM251 519h1v2h-1zM255 524h1v2h-1zM259 529h1v2h-1zM267 538h1v2h-1zM473 515h1v2h-1zM474 511h1v4h-1zM475 507h1v4h-1zM476 503h1v4h-1zM477 500h1v3h-1zM478 497h1v3h-1zM479 493h1v4h-1zM480 490h1v3h-1zM481 487h1v3h-1zM482 484h1v3h-1zM483 480h1v4h-1zM484 477h1v3h-1zM485 474h1v3h-1zM486 471h1v3h-1zM487 467h1v4h-1zM488 464h1v3h-1zM489 461h1v3h-1zM490 457h1v4h-1zM491 454h1v3h-1zM492 450h1v4h-1zM493 447h1v3h-1zM494 443h1v4h-1zM495 439h1v4h-1zM496 435h1v4h-1zM497 432h1v3h-1zM498 428h1v4h-1zM499 425h1v3h-1zM500 421h1v4h-1zM501 418h1v3h-1zM502 414h1v4h-1zM503 411h1v3h-1zM504 407h1v4h-1zM505 404h1v3h-1zM506 400h1v4h-1zM507 397h1v3h-1zM508 393h1v4h-1zM509 390h1v3h-1zM510 386h1v4h-1zM511 383h1v3h-1zM512 379h1v4h-1zM513 376h1v3h-1zM514 373h1v3h-1zM515 370h1v3h-1zM516 367h1v3h-1zM517 364h1v3h-1zM518 361h1v3h-1zM519 357h1v4h-1zM520 354h1v3h-1zM521 351h1v3h-1zM522 348h1v3h-1zM523 345h1v3h-1zM524 342h1v3h-1zM525 339h1v3h-1zM526 336h1v3h-1zM527 332h1v4h-1zM528 329h1v3h-1zM529 327h1v2h-1zM607 323h1v2h-1zM619 336h1v2h-1zM623 341h1v2h-1zM635 353h1v2h-1zM643 362h1v2h-1zM754 364h1v2h-1zM755 362h1v2h-1zM756 360h1v2h-1zM758 357h1v2h-1zM759 355h1v2h-1zM760 353h1v2h-1zM761 351h1v2h-1zM762 347h1v4h-1zM763 343h1v4h-1zM764 339h1v4h-1zM765 336h1v3h-1zM766 333h1v3h-1zM767 330h1v3h-1zM768 327h1v3h-1zM769 324h1v3h-1zM770 320h1v4h-1zM771 316h1v4h-1zM772 312h1v4h-1zM773 309h1v3h-1zM774 306h1v3h-1zM775 302h1v4h-1zM776 299h1v3h-1zM777 296h1v3h-1zM778 292h1v4h-1zM779 288h1v4h-1zM780 284h1v4h-1zM781 280h1v4h-1zM782 276h1v4h-1zM783 272h1v4h-1zM784 268h1v4h-1zM785 264h1v4h-1zM786 260h1v4h-1zM787 256h1v4h-1zM788 252h1v4h-1zM789 249h1v3h-1zM790 247h1v2h-1zM791 244h1v3h-1zM792 242h1v2h-1zM793 239h1v3h-1zM794 236h1v3h-1zM795 234h1v2h-1zM796 231h1v3h-1zM797 228h1v3h-1zM798 225h1v3h-1zM799 222h1v3h-1zM800 219h1v3h-1zM801 216h1v3h-1zM802 213h1v3h-1zM803 211h1v2h-1zM804 208h1v3h-1zM805 205h1v3h-1zM806 203h1v2h-1zM807 200h1v3h-1zM808 198h1v2h-1zM809 196h1v2h-1zM810 194h1v2h-1zM812 191h1v2h-1zM814 188h1v2h-1zM815 186h1v2h-1zM816 184h1v2h-1zM831 176h1v2h-1zM835 171h1v2h-1zM839 166h1v2h-1zM843 161h1v2h-1zM845 158h1v2h-1zM846 156h1v2h-1zM847 154h1v2h-1zM848 152h1v2h-1zM849 150h1v2h-1zM850 148h1v2h-1zM851 146h1v2h-1zM852 144h1v2h-1zM853 142h1v2h-1zM854 140h1v2h-1zM855 138h1v2h-1zM856 136h1v2h-1zM857 133h1v3h-1zM858 131h1v2h-1zM859 128h1v3h-1zM860 126h1v2h-1zM861 123h1v3h-1zM862 121h1v2h-1zM863 118h1v3h-1zM864 116h1v2h-1zM865 114h1v2h-1zM866 112h1v2h-1zM868 109h1v2h-1zM871 105h1v2h-1zM894 107h1v2h-1zM895 109h1v2h-1zM896 111h1v2h-1zM897 113h1v2h-1zM898 115h1v2h-1zM899 117h1v3h-1zM900 120h1v2h-1zM901 122h1v2h-1zM902 124h1v2h-1zM903 126h1v2h-1zM904 128h1v2h-1zM906 131h1v2h-1zM907 133h1v2h-1zM908 135h1v2h-1zM910 138h1v2h-1zM912 141h1v2h-1zM914 144h1v2h-1zM915 146h1v2h-1zM916 148h1v2h-1zM917 150h1v2h-1zM919 153h1v2h-1zM950 155h1v2h-1zM952 152h1v2h-1zM954 149h1v2h-1zM955 147h1v2h-1zM956 145h1v2h-1zM957 143h1v2h-1zM958 141h1v2h-1zM959 139h1v2h-1zM960 137h1v2h-1zM961 135h1v2h-1zM962 133h1v2h-1zM964 130h1v2h-1zM1007 131h1v2h-1zM1015 139h1v2h-1zM1019 144h1v2h-1zM1035 158h1v2h-1zM1038 162h1v2h-1zM1040 165h1v2h-1zM1042 168h1v2h-1zM1044 171h1v2h-1zM1067 184h1v2h-1zM1079 195h1v2h-1zM1082 199h1v2h-1zM1084 202h1v2h-1zM1086 205h1v2h-1zM1087 207h1v2h-1zM1088 209h1v2h-1zM1091 213h1v2h-1zM1095 218h1v2h-1zM1143 231h1v2h-1zM1175 216h1v2h-1zM1231 231h1v2h-1zM1299 274h1v2h-1zM1303 279h1v2h-1zM880 99h3v1h-3zM877 100h3v1h-3zM883 100h3v1h-3zM876 101h1v1h-1zM886 101h2v1h-2zM874 102h2v1h-2zM888 102h2v1h-2zM873 103h1v1h-1zM890 103h1v1h-1zM872 104h1v1h-1zM891 104h1v1h-1zM892 105h1v1h-1zM893 106h1v1h-1zM870 107h1v1h-1zM869 108h1v1h-1zM867 111h1v1h-1zM989 116h2v1h-2zM987 117h2v1h-2zM991 117h3v1h-3zM985 118h2v1h-2zM994 118h1v1h-1zM984 119h1v1h-1zM995 119h1v1h-1zM982 120h2v1h-2zM996 120h1v1h-1zM981 121h1v1h-1zM997 121h1v1h-1zM979 122h2v1h-2zM998 122h1v1h-1zM976 123h3v1h-3zM999 123h1v1h-1zM973 124h3v1h-3zM1000 124h1v1h-1zM971 125h2v1h-2zM1001 125h1v1h-1zM969 126h2v1h-2zM1002 126h1v1h-1zM968 127h1v1h-1zM1003 127h1v1h-1zM966 128h2v1h-2zM1004 128h1v1h-1zM965 129h1v1h-1zM1005 129h1v1h-1zM905 130h1v1h-1zM1006 130h1v1h-1zM963 132h1v1h-1zM1008 133h1v1h-1zM1009 134h1v1h-1zM1010 135h1v1h-1zM1011 136h2v1h-2zM909 137h1v1h-1zM1013 137h1v1h-1zM1014 138h1v1h-1zM911 140h1v1h-1zM1016 141h1v1h-1zM1017 142h1v1h-1zM913 143h1v1h-1zM1018 143h1v1h-1zM1020 146h1v1h-1zM1021 147h1v1h-1zM1022 148h1v1h-1zM1023 149h1v1h-1zM1024 150h1v1h-1zM953 151h1v1h-1zM1025 151h1v1h-1zM918 152h1v1h-1zM1026 152h1v1h-1zM1027 153h2v1h-2zM951 154h1v1h-1zM1029 154h1v1h-1zM920 155h1v1h-1zM1030 155h2v1h-2zM921 156h1v1h-1zM1032 156h2v1h-2zM922 157h1v1h-1zM948 157h2v1h-2zM1034 157h1v1h-1zM923 158h1v1h-1zM945 158h3v1h-3zM924 159h1v1h-1zM943 159h2v1h-2zM844 160h1v1h-1zM925 160h1v1h-1zM940 160h3v1h-3zM1036 160h1v1h-1zM926 161h2v1h-2zM936 161h4v1h-4zM1037 161h1v1h-1zM928 162h8v1h-8zM842 163h1v1h-1zM841 164h1v1h-1zM1039 164h1v1h-1zM840 165h1v1h-1zM1041 167h1v1h-1zM838 168h1v1h-1zM837 169h1v1h-1zM836 170h1v1h-1zM1043 170h1v1h-1zM834 173h1v1h-1zM1045 173h1v1h-1zM833 174h1v1h-1zM1046 174h1v1h-1zM832 175h1v1h-1zM1047 175h1v1h-1zM1048 176h1v1h-1zM1049 177h2v1h-2zM830 178h1v1h-1zM1051 178h4v1h-4zM829 179h1v1h-1zM1055 179h4v1h-4zM828 180h1v1h-1zM1059 180h3v1h-3zM826 181h2v1h-2zM1062 181h2v1h-2zM825 182h1v1h-1zM1064 182h2v1h-2zM817 183h1v1h-1zM824 183h1v1h-1zM1066 183h1v1h-1zM818 184h2v1h-2zM822 184h2v1h-2zM820 185h2v1h-2zM1068 186h1v1h-1zM1069 187h1v1h-1zM1070 188h1v1h-1zM1071 189h2v1h-2zM813 190h1v1h-1zM1073 190h1v1h-1zM1074 191h1v1h-1zM1075 192h2v1h-2zM811 193h1v1h-1zM1077 193h1v1h-1zM1078 194h1v1h-1zM1080 197h1v1h-1zM1081 198h1v1h-1zM1083 201h1v1h-1zM1085 204h1v1h-1zM1089 211h1v1h-1zM1090 212h1v1h-1zM1181 212h10v1h-10zM1179 213h2v1h-2zM1191 213h4v1h-4zM1177 214h2v1h-2zM1195 214h11v1h-11zM1092 215h1v1h-1zM1176 215h1v1h-1zM1206 215h1v1h-1zM1093 216h1v1h-1zM1207 216h2v1h-2zM1094 217h1v1h-1zM1209 217h2v1h-2zM1174 218h1v1h-1zM1211 218h3v1h-3zM1173 219h1v1h-1zM1214 219h2v1h-2zM1096 220h1v1h-1zM1172 220h1v1h-1zM1216 220h2v1h-2zM1097 221h1v1h-1zM1170 221h2v1h-2zM1218 221h1v1h-1zM1098 222h1v1h-1zM1161 222h9v1h-9zM1219 222h2v1h-2zM1099 223h2v1h-2zM1159 223h2v1h-2zM1221 223h1v1h-1zM1101 224h1v1h-1zM1153 224h6v1h-6zM1222 224h2v1h-2zM1102 225h1v1h-1zM1151 225h2v1h-2zM1224 225h2v1h-2zM1103 226h2v1h-2zM1149 226h2v1h-2zM1226 226h1v1h-1zM1105 227h1v1h-1zM1148 227h1v1h-1zM1227 227h1v1h-1zM1106 228h1v1h-1zM1146 228h2v1h-2zM1228 228h1v1h-1zM1107 229h2v1h-2zM1145 229h1v1h-1zM1229 229h1v1h-1zM1109 230h1v1h-1zM1144 230h1v1h-1zM1230 230h1v1h-1zM1110 231h2v1h-2zM1112 232h2v1h-2zM1114 233h1v1h-1zM1142 233h1v1h-1zM1232 233h1v1h-1zM1115 234h1v1h-1zM1141 234h1v1h-1zM1233 234h1v1h-1zM1116 235h1v1h-1zM1140 235h1v1h-1zM1234 235h1v1h-1zM1117 236h1v1h-1zM1138 236h2v1h-2zM1235 236h1v1h-1zM1118 237h1v1h-1zM1137 237h1v1h-1zM1236 237h1v1h-1zM1119 238h2v1h-2zM1136 238h1v1h-1zM1237 238h1v1h-1zM1121 239h2v1h-2zM1134 239h2v1h-2zM1238 239h1v1h-1zM1123 240h4v1h-4zM1132 240h2v1h-2zM1239 240h2v1h-2zM1127 241h5v1h-5zM1241 241h2v1h-2zM1243 242h4v1h-4zM1247 243h3v1h-3zM1250 244h1v1h-1zM1251 245h2v1h-2zM1253 246h1v1h-1zM1254 247h1v1h-1zM1255 248h2v1h-2zM1257 249h1v1h-1zM1258 250h1v1h-1zM1259 251h2v1h-2zM1264 251h2v1h-2zM1261 252h3v1h-3zM1266 252h2v1h-2zM1268 253h2v1h-2zM1270 254h1v1h-1zM1271 255h2v1h-2zM1273 256h1v1h-1zM1274 257h2v1h-2zM1276 258h2v1h-2zM1278 259h1v1h-1zM1279 260h2v1h-2zM1281 261h1v1h-1zM1282 262h2v1h-2zM1284 263h2v1h-2zM1286 264h1v1h-1zM1287 265h2v1h-2zM1289 266h1v1h-1zM1290 267h2v1h-2zM1292 268h2v1h-2zM1294 269h1v1h-1zM1295 270h1v1h-1zM1296 271h1v1h-1zM1297 272h1v1h-1zM1298 273h1v1h-1zM1300 276h1v1h-1zM1301 277h1v1h-1zM1302 278h1v1h-1zM1304 281h1v1h-1zM1305 282h1v1h-1zM592 317h6v1h-6zM584 318h8v1h-8zM598 318h2v1h-2zM580 319h4v1h-4zM600 319h2v1h-2zM576 320h4v1h-4zM602 320h2v1h-2zM544 321h3v1h-3zM573 321h3v1h-3zM604 321h2v1h-2zM541 322h3v1h-3zM547 322h4v1h-4zM571 322h2v1h-2zM606 322h1v1h-1zM539 323h2v1h-2zM551 323h4v1h-4zM568 323h3v1h-3zM536 324h3v1h-3zM555 324h4v1h-4zM564 324h4v1h-4zM533 325h3v1h-3zM559 325h5v1h-5zM608 325h1v1h-1zM531 326h2v1h-2zM609 326h1v1h-1zM530 327h1v1h-1zM610 327h1v1h-1zM611 328h1v1h-1zM612 329h1v1h-1zM613 330h1v1h-1zM614 331h1v1h-1zM615 332h1v1h-1zM616 333h1v1h-1zM617 334h1v1h-1zM618 335h1v1h-1zM620 338h1v1h-1zM621 339h1v1h-1zM622 340h1v1h-1zM624 343h1v1h-1zM625 344h1v1h-1zM626 345h1v1h-1zM627 346h1v1h-1zM628 347h1v1h-1zM629 348h1v1h-1zM24 349h3v1h-3zM630 349h1v1h-1zM17 350h7v1h-7zM27 350h11v1h-11zM631 350h2v1h-2zM16 351h1v1h-1zM38 351h2v1h-2zM633 351h1v1h-1zM14 352h2v1h-2zM40 352h2v1h-2zM634 352h1v1h-1zM13 353h1v1h-1zM42 353h1v1h-1zM11 354h2v1h-2zM43 354h2v1h-2zM9 355h2v1h-2zM45 355h1v1h-1zM636 355h1v1h-1zM8 356h1v1h-1zM46 356h2v1h-2zM637 356h1v1h-1zM6 357h2v1h-2zM48 357h2v1h-2zM638 357h1v1h-1zM5 358h1v1h-1zM50 358h2v1h-2zM639 358h1v1h-1zM52 359h3v1h-3zM640 359h1v1h-1zM757 359h1v1h-1zM55 360h3v1h-3zM641 360h1v1h-1zM58 361h2v1h-2zM642 361h1v1h-1zM60 362h2v1h-2zM62 363h2v1h-2zM64 364h2v1h-2zM644 364h1v1h-1zM66 365h1v1h-1zM645 365h1v1h-1zM646 366h1v1h-1zM753 366h1v1h-1zM647 367h1v1h-1zM712 367h3v1h-3zM751 367h2v1h-2zM68 368h1v1h-1zM648 368h1v1h-1zM696 368h16v1h-16zM715 368h4v1h-4zM748 368h3v1h-3zM69 369h1v1h-1zM649 369h1v1h-1zM673 369h23v1h-23zM719 369h4v1h-4zM740 369h8v1h-8zM70 370h1v1h-1zM650 370h1v1h-1zM671 370h2v1h-2zM723 370h3v1h-3zM736 370h4v1h-4zM651 371h2v1h-2zM668 371h3v1h-3zM726 371h2v1h-2zM732 371h4v1h-4zM653 372h1v1h-1zM665 372h3v1h-3zM728 372h4v1h-4zM72 373h1v1h-1zM654 373h2v1h-2zM664 373h1v1h-1zM73 374h1v1h-1zM656 374h3v1h-3zM662 374h2v1h-2zM74 375h1v1h-1zM659 375h3v1h-3zM76 378h1v1h-1zM77 379h1v1h-1zM101 429h1v1h-1zM102 430h1v1h-1zM104 433h1v1h-1zM105 434h1v1h-1zM107 437h1v1h-1zM109 440h1v1h-1zM111 443h1v1h-1zM113 446h1v1h-1zM114 447h1v1h-1zM116 450h1v1h-1zM117 451h1v1h-1zM118 452h1v1h-1zM119 453h1v1h-1zM120 454h1v1h-1zM121 455h1v1h-1zM122 456h1v1h-1zM123 457h2v1h-2zM125 458h1v1h-1zM126 459h1v1h-1zM127 460h1v1h-1zM128 461h1v1h-1zM129 462h1v1h-1zM130 463h1v1h-1zM132 466h1v1h-1zM133 467h1v1h-1zM134 468h2v1h-2zM136 469h7v1h-7zM143 470h3v1h-3zM146 471h1v1h-1zM147 472h2v1h-2zM216 472h2v1h-2zM149 473h1v1h-1zM213 473h3v1h-3zM218 473h1v1h-1zM150 474h1v1h-1zM211 474h2v1h-2zM209 475h2v1h-2zM208 476h1v1h-1zM220 476h1v1h-1zM152 477h1v1h-1zM207 477h1v1h-1zM221 477h1v1h-1zM153 478h2v1h-2zM206 478h1v1h-1zM222 478h2v1h-2zM155 479h3v1h-3zM205 479h1v1h-1zM224 479h2v1h-2zM158 480h2v1h-2zM204 480h1v1h-1zM226 480h1v1h-1zM160 481h3v1h-3zM203 481h1v1h-1zM227 481h1v1h-1zM163 482h3v1h-3zM202 482h1v1h-1zM228 482h1v1h-1zM166 483h1v1h-1zM201 483h1v1h-1zM229 483h1v1h-1zM167 484h1v1h-1zM200 484h1v1h-1zM168 485h1v1h-1zM198 485h2v1h-2zM169 486h1v1h-1zM196 486h2v1h-2zM231 486h1v1h-1zM170 487h2v1h-2zM193 487h3v1h-3zM172 488h2v1h-2zM191 488h2v1h-2zM174 489h2v1h-2zM189 489h2v1h-2zM233 489h1v1h-1zM176 490h3v1h-3zM188 490h1v1h-1zM179 491h4v1h-4zM186 491h2v1h-2zM183 492h3v1h-3zM237 496h1v1h-1zM241 503h1v1h-1zM247 514h1v1h-1zM249 517h1v1h-1zM471 517h2v1h-2zM250 518h1v1h-1zM469 518h2v1h-2zM468 519h1v1h-1zM467 520h1v1h-1zM252 521h1v1h-1zM466 521h1v1h-1zM253 522h1v1h-1zM464 522h2v1h-2zM254 523h1v1h-1zM461 523h3v1h-3zM460 524h1v1h-1zM458 525h2v1h-2zM256 526h1v1h-1zM457 526h1v1h-1zM257 527h1v1h-1zM455 527h2v1h-2zM258 528h1v1h-1zM360 528h3v1h-3zM372 528h11v1h-11zM388 528h6v1h-6zM453 528h2v1h-2zM356 529h4v1h-4zM363 529h9v1h-9zM383 529h5v1h-5zM394 529h2v1h-2zM451 529h2v1h-2zM345 530h11v1h-11zM396 530h2v1h-2zM448 530h3v1h-3zM260 531h1v1h-1zM308 531h7v1h-7zM324 531h7v1h-7zM344 531h1v1h-1zM398 531h2v1h-2zM444 531h4v1h-4zM261 532h1v1h-1zM304 532h4v1h-4zM315 532h9v1h-9zM331 532h4v1h-4zM342 532h2v1h-2zM400 532h2v1h-2zM441 532h3v1h-3zM262 533h1v1h-1zM301 533h3v1h-3zM335 533h7v1h-7zM402 533h2v1h-2zM439 533h2v1h-2zM263 534h1v1h-1zM299 534h2v1h-2zM404 534h6v1h-6zM437 534h2v1h-2zM264 535h1v1h-1zM297 535h2v1h-2zM410 535h1v1h-1zM435 535h2v1h-2zM265 536h1v1h-1zM295 536h2v1h-2zM411 536h2v1h-2zM433 536h2v1h-2zM266 537h1v1h-1zM293 537h2v1h-2zM413 537h2v1h-2zM431 537h2v1h-2zM291 538h2v1h-2zM415 538h4v1h-4zM428 538h3v1h-3zM288 539h3v1h-3zM419 539h9v1h-9zM268 540h1v1h-1zM285 540h3v1h-3zM269 541h1v1h-1zM283 541h2v1h-2zM270 542h2v1h-2zM276 542h7v1h-7zM272 543h4v1h-4z" fill="#ff0000"/><path d="M30 347h1v2h-1zM32 350h1v2h-1zM34 353h1v2h-1zM35 355h1v2h-1zM36 357h1v2h-1zM42 364h1v2h-1zM43 366h1v2h-1zM44 368h1v2h-1zM71 383h1v2h-1zM73 386h1v2h-1zM74 388h1v3h-1zM75 391h1v3h-1zM76 394h1v3h-1zM77 397h1v4h-1zM78 401h1v4h-1zM79 405h1v4h-1zM80 409h1v4h-1zM81 413h1v5h-1zM82 418h1v5h-1zM83 423h1v6h-1zM84 429h1v5h-1zM85 434h1v5h-1zM86 439h1v4h-1zM87 443h1v4h-1zM88 447h1v4h-1zM89 451h1v5h-1zM90 456h1v4h-1zM91 460h1v5h-1zM92 465h1v4h-1zM93 469h1v4h-1zM94 473h1v2h-1zM95 475h1v3h-1zM96 478h1v2h-1zM97 480h1v2h-1zM99 483h1v2h-1zM102 484h1v2h-1zM103 482h1v2h-1zM104 480h1v2h-1zM106 477h1v2h-1zM108 474h1v2h-1zM110 471h1v2h-1zM111 469h1v2h-1zM112 467h1v2h-1zM113 465h1v2h-1zM114 463h1v2h-1zM116 460h1v2h-1zM117 458h1v2h-1zM118 456h1v2h-1zM119 453h1v3h-1zM120 451h1v2h-1zM121 449h1v2h-1zM129 447h1v2h-1zM130 449h1v2h-1zM131 451h1v3h-1zM132 454h1v2h-1zM133 456h1v3h-1zM134 459h1v2h-1zM135 461h1v2h-1zM136 463h1v2h-1zM137 465h1v3h-1zM138 468h1v3h-1zM139 471h1v3h-1zM140 474h1v3h-1zM141 477h1v3h-1zM142 480h1v2h-1zM143 482h1v2h-1zM144 484h1v2h-1zM145 486h1v3h-1zM146 489h1v4h-1zM147 493h1v4h-1zM148 497h1v4h-1zM149 501h1v3h-1zM150 504h1v2h-1zM151 506h1v3h-1zM152 509h1v2h-1zM153 511h1v2h-1zM162 510h1v2h-1zM164 507h1v2h-1zM166 504h1v2h-1zM168 501h1v2h-1zM169 499h1v2h-1zM170 496h1v3h-1zM171 492h1v4h-1zM172 489h1v3h-1zM173 487h1v2h-1zM175 484h1v2h-1zM178 480h1v2h-1zM180 477h1v2h-1zM185 474h1v2h-1zM186 472h1v2h-1zM187 469h1v3h-1zM188 467h1v2h-1zM189 465h1v2h-1zM206 466h1v2h-1zM207 468h1v2h-1zM208 470h1v2h-1zM217 475h1v2h-1zM218 477h1v4h-1zM219 481h1v3h-1zM220 484h1v4h-1zM221 488h1v3h-1zM222 491h1v3h-1zM223 494h1v2h-1zM224 496h1v3h-1zM225 499h1v3h-1zM226 502h1v3h-1zM227 505h1v2h-1zM228 507h1v3h-1zM229 510h1v3h-1zM230 513h1v4h-1zM231 517h1v4h-1zM232 521h1v4h-1zM233 525h1v4h-1zM234 529h1v4h-1zM235 533h1v4h-1zM236 537h1v4h-1zM237 541h1v3h-1zM242 548h1v2h-1zM243 550h1v2h-1zM244 552h1v2h-1zM245 554h1v2h-1zM254 555h1v2h-1zM255 553h1v2h-1zM256 551h1v2h-1zM257 549h1v2h-1zM282 526h1v2h-1zM284 523h1v2h-1zM315 535h1v2h-1zM335 532h1v2h-1zM338 528h1v2h-1zM340 525h1v2h-1zM362 524h1v2h-1zM364 527h1v2h-1zM409 537h1v2h-1zM410 539h1v2h-1zM411 541h1v2h-1zM412 543h1v2h-1zM413 545h1v2h-1zM429 541h1v2h-1zM430 539h1v2h-1zM431 537h1v2h-1zM432 535h1v2h-1zM433 532h1v3h-1zM434 530h1v2h-1zM435 527h1v3h-1zM436 525h1v2h-1zM437 523h1v2h-1zM438 521h1v2h-1zM440 518h1v2h-1zM443 514h1v2h-1zM455 510h1v2h-1zM473 508h1v5h-1zM474 499h1v9h-1zM475 489h1v10h-1zM476 480h1v9h-1zM477 472h1v8h-1zM478 464h1v8h-1zM479 456h1v8h-1zM480 448h1v8h-1zM481 440h1v8h-1zM482 432h1v8h-1zM483 424h1v8h-1zM484 416h1v8h-1zM485 407h1v9h-1zM486 398h1v9h-1zM487 389h1v9h-1zM488 380h1v9h-1zM489 370h1v10h-1zM490 360h1v10h-1zM491 350h1v10h-1zM492 340h1v10h-1zM493 334h1v6h-1zM494 332h1v2h-1zM495 330h1v2h-1zM496 328h1v2h-1zM498 325h1v2h-1zM499 323h1v2h-1zM500 321h1v2h-1zM502 318h1v2h-1zM504 315h1v2h-1zM514 315h1v2h-1zM516 318h1v2h-1zM519 322h1v2h-1zM523 327h1v2h-1zM599 319h1v2h-1zM602 323h1v2h-1zM604 326h1v2h-1zM605 328h1v2h-1zM606 330h1v4h-1zM607 334h1v4h-1zM608 338h1v4h-1zM609 342h1v3h-1zM610 345h1v3h-1zM611 348h1v4h-1zM612 352h1v3h-1zM613 355h1v3h-1zM614 358h1v3h-1zM615 361h1v4h-1zM616 365h1v3h-1zM617 368h1v2h-1zM618 370h1v2h-1zM619 372h1v2h-1zM620 374h1v2h-1zM658 372h1v2h-1zM660 369h1v2h-1zM662 366h1v2h-1zM664 363h1v2h-1zM679 363h1v2h-1zM751 360h1v2h-1zM753 356h1v3h-1zM754 352h1v4h-1zM755 347h1v5h-1zM756 343h1v4h-1zM757 338h1v5h-1zM758 334h1v4h-1zM759 330h1v4h-1zM760 326h1v4h-1zM761 318h1v8h-1zM762 308h1v10h-1zM763 298h1v10h-1zM764 288h1v10h-1zM765 278h1v10h-1zM766 270h1v8h-1zM767 262h1v8h-1zM768 254h1v8h-1zM769 245h1v9h-1zM770 236h1v9h-1zM771 227h1v9h-1zM772 218h1v9h-1zM773 211h1v7h-1zM774 206h1v5h-1zM775 202h1v4h-1zM776 197h1v5h-1zM777 191h1v6h-1zM778 185h1v6h-1zM779 179h1v6h-1zM780 173h1v6h-1zM781 169h1v4h-1zM786 167h1v2h-1zM787 165h1v2h-1zM788 163h1v2h-1zM789 161h1v2h-1zM790 163h1v4h-1zM791 167h1v3h-1zM792 170h1v4h-1zM793 174h1v2h-1zM797 178h1v2h-1zM798 180h1v2h-1zM799 182h1v3h-1zM800 185h1v2h-1zM801 187h1v3h-1zM802 190h1v2h-1zM803 192h1v3h-1zM804 195h1v2h-1zM805 197h1v3h-1zM806 200h1v2h-1zM807 202h1v3h-1zM808 205h1v2h-1zM809 207h1v2h-1zM810 205h1v2h-1zM811 203h1v2h-1zM812 201h1v2h-1zM813 199h1v2h-1zM821 190h1v2h-1zM822 188h1v2h-1zM823 186h1v2h-1zM824 184h1v2h-1zM825 181h1v3h-1zM826 177h1v4h-1zM827 173h1v4h-1zM828 169h1v4h-1zM829 165h1v4h-1zM830 161h1v4h-1zM831 157h1v4h-1zM832 153h1v4h-1zM833 149h1v4h-1zM834 144h1v5h-1zM835 139h1v5h-1zM836 134h1v5h-1zM837 129h1v5h-1zM838 124h1v5h-1zM839 120h1v4h-1zM840 115h1v5h-1zM841 111h1v4h-1zM842 107h1v4h-1zM843 103h1v4h-1zM844 99h1v4h-1zM845 96h1v3h-1zM851 90h1v2h-1zM859 86h1v2h-1zM873 86h1v2h-1zM874 88h1v3h-1zM875 91h1v2h-1zM876 93h1v3h-1zM877 96h1v4h-1zM878 100h1v4h-1zM879 104h1v4h-1zM880 108h1v4h-1zM881 112h1v4h-1zM882 116h1v3h-1zM883 119h1v3h-1zM884 122h1v3h-1zM885 125h1v2h-1zM886 127h1v2h-1zM887 129h1v2h-1zM888 131h1v2h-1zM889 133h1v2h-1zM891 136h1v2h-1zM893 139h1v2h-1zM894 141h1v2h-1zM895 143h1v3h-1zM896 146h1v2h-1zM897 148h1v3h-1zM898 151h1v4h-1zM899 155h1v3h-1zM900 158h1v4h-1zM901 162h1v3h-1zM902 165h1v4h-1zM903 169h1v4h-1zM904 173h1v4h-1zM905 177h1v3h-1zM906 180h1v2h-1zM907 182h1v2h-1zM908 184h1v2h-1zM909 186h1v2h-1zM911 189h1v2h-1zM917 188h1v2h-1zM918 184h1v4h-1zM919 181h1v3h-1zM920 177h1v4h-1zM921 174h1v3h-1zM922 172h1v2h-1zM923 170h1v2h-1zM924 168h1v2h-1zM925 165h1v3h-1zM926 163h1v2h-1zM927 160h1v3h-1zM928 158h1v2h-1zM929 156h1v2h-1zM930 154h1v2h-1zM932 151h1v2h-1zM934 148h1v2h-1zM935 146h1v2h-1zM936 144h1v2h-1zM938 141h1v2h-1zM939 139h1v2h-1zM940 137h1v2h-1zM942 134h1v2h-1zM943 132h1v2h-1zM944 130h1v2h-1zM945 128h1v2h-1zM950 122h1v2h-1zM952 119h1v2h-1zM955 115h1v2h-1zM970 108h1v2h-1zM971 110h1v2h-1zM972 112h1v2h-1zM974 115h1v2h-1zM975 117h1v2h-1zM976 119h1v2h-1zM995 125h1v2h-1zM997 128h1v2h-1zM998 130h1v3h-1zM999 133h1v2h-1zM1000 135h1v3h-1zM1001 138h1v4h-1zM1002 142h1v4h-1zM1003 146h1v4h-1zM1004 150h1v4h-1zM1005 154h1v4h-1zM1006 158h1v3h-1zM1007 161h1v3h-1zM1008 164h1v3h-1zM1009 167h1v2h-1zM1031 172h1v2h-1zM1074 202h1v2h-1zM1075 204h1v2h-1zM1076 206h1v2h-1zM1077 208h1v3h-1zM1078 211h1v2h-1zM1079 213h1v3h-1zM1080 216h1v2h-1zM1081 218h1v3h-1zM1082 221h1v2h-1zM1083 223h1v3h-1zM1084 226h1v2h-1zM1085 228h1v3h-1zM1086 231h1v3h-1zM1087 234h1v3h-1zM1088 237h1v3h-1zM1089 240h1v3h-1zM1090 243h1v2h-1zM1091 245h1v2h-1zM1092 247h1v2h-1zM1093 249h1v2h-1zM1094 251h1v2h-1zM1095 253h1v2h-1zM1096 255h1v2h-1zM1097 257h1v2h-1zM1105 252h1v2h-1zM1106 250h1v2h-1zM1107 247h1v3h-1zM1108 245h1v2h-1zM1109 243h1v2h-1zM1110 241h1v2h-1zM1111 239h1v2h-1zM1112 237h1v2h-1zM1134 227h1v2h-1zM1136 224h1v2h-1zM1137 222h1v2h-1zM1138 220h1v2h-1zM1139 218h1v2h-1zM1140 216h1v2h-1zM1141 214h1v2h-1zM1171 220h1v2h-1zM1173 217h1v2h-1zM1174 214h1v3h-1zM1175 212h1v2h-1zM1176 209h1v3h-1zM1177 207h1v2h-1zM1194 207h1v2h-1zM1195 209h1v2h-1zM1196 211h1v2h-1zM1197 213h1v2h-1zM1205 219h1v2h-1zM1206 221h1v2h-1zM1207 223h1v3h-1zM1208 226h1v2h-1zM1209 228h1v2h-1zM1214 232h1v2h-1zM1215 234h1v2h-1zM1216 236h1v2h-1zM1218 239h1v2h-1zM1219 241h1v2h-1zM1220 243h1v2h-1zM1221 245h1v3h-1zM1222 248h1v2h-1zM1223 250h1v2h-1zM1224 252h1v2h-1zM1225 254h1v2h-1zM1227 252h1v2h-1zM1266 254h1v2h-1zM1268 257h1v2h-1zM1270 260h1v2h-1zM1271 262h1v2h-1zM1272 264h1v2h-1zM1273 266h1v2h-1zM1274 268h1v2h-1zM1276 271h1v2h-1zM1278 274h1v2h-1zM1279 276h1v2h-1zM1280 278h1v2h-1zM1282 281h1v2h-1zM1284 284h1v2h-1zM1302 294h1v2h-1zM1303 296h1v2h-1zM1304 298h1v2h-1zM1305 300h1v2h-1zM865 82h5v1h-5zM863 83h2v1h-2zM870 83h1v1h-1zM861 84h2v1h-2zM871 84h1v1h-1zM860 85h1v1h-1zM872 85h1v1h-1zM853 88h2v1h-2zM858 88h1v1h-1zM852 89h1v1h-1zM855 89h3v1h-3zM850 92h1v1h-1zM849 93h1v1h-1zM848 94h1v1h-1zM846 95h2v1h-2zM965 106h2v1h-2zM964 107h1v1h-1zM967 107h3v1h-3zM962 108h2v1h-2zM961 109h1v1h-1zM960 110h1v1h-1zM959 111h1v1h-1zM958 112h1v1h-1zM957 113h1v1h-1zM956 114h1v1h-1zM973 114h1v1h-1zM954 117h1v1h-1zM953 118h1v1h-1zM951 121h1v1h-1zM977 121h1v1h-1zM989 121h1v1h-1zM978 122h1v1h-1zM987 122h2v1h-2zM990 122h2v1h-2zM979 123h2v1h-2zM984 123h3v1h-3zM992 123h2v1h-2zM949 124h1v1h-1zM981 124h3v1h-3zM994 124h1v1h-1zM948 125h1v1h-1zM947 126h1v1h-1zM946 127h1v1h-1zM996 127h1v1h-1zM890 135h1v1h-1zM941 136h1v1h-1zM892 138h1v1h-1zM937 143h1v1h-1zM933 150h1v1h-1zM931 153h1v1h-1zM1024 167h2v1h-2zM1010 168h1v1h-1zM1020 168h4v1h-4zM1026 168h1v1h-1zM782 169h4v1h-4zM1011 169h9v1h-9zM1027 169h2v1h-2zM1029 170h1v1h-1zM1030 171h1v1h-1zM1032 174h1v1h-1zM1033 175h1v1h-1zM794 176h1v1h-1zM1034 176h1v1h-1zM795 177h2v1h-2zM1035 177h2v1h-2zM1037 178h1v1h-1zM1038 179h2v1h-2zM1040 180h2v1h-2zM1042 181h1v1h-1zM1043 182h2v1h-2zM1045 183h1v1h-1zM1046 184h1v1h-1zM1047 185h1v1h-1zM1048 186h1v1h-1zM1049 187h1v1h-1zM910 188h1v1h-1zM1050 188h2v1h-2zM1052 189h6v1h-6zM916 190h1v1h-1zM1058 190h1v1h-1zM912 191h1v1h-1zM914 191h2v1h-2zM1059 191h2v1h-2zM820 192h1v1h-1zM913 192h1v1h-1zM1061 192h1v1h-1zM819 193h1v1h-1zM1062 193h2v1h-2zM818 194h1v1h-1zM1064 194h2v1h-2zM817 195h1v1h-1zM1066 195h1v1h-1zM816 196h1v1h-1zM1067 196h2v1h-2zM815 197h1v1h-1zM1069 197h1v1h-1zM814 198h1v1h-1zM1070 198h1v1h-1zM1071 199h1v1h-1zM1072 200h1v1h-1zM1073 201h1v1h-1zM1185 201h2v1h-2zM1184 202h1v1h-1zM1187 202h3v1h-3zM1182 203h2v1h-2zM1190 203h1v1h-1zM1181 204h1v1h-1zM1191 204h1v1h-1zM1180 205h1v1h-1zM1192 205h1v1h-1zM1178 206h2v1h-2zM1193 206h1v1h-1zM1145 211h5v1h-5zM1144 212h1v1h-1zM1150 212h1v1h-1zM1142 213h2v1h-2zM1151 213h1v1h-1zM1152 214h1v1h-1zM1153 215h1v1h-1zM1198 215h1v1h-1zM1154 216h1v1h-1zM1199 216h2v1h-2zM1155 217h2v1h-2zM1201 217h1v1h-1zM1157 218h1v1h-1zM1202 218h2v1h-2zM1158 219h1v1h-1zM1172 219h1v1h-1zM1204 219h1v1h-1zM1159 220h2v1h-2zM1161 221h1v1h-1zM1162 222h1v1h-1zM1170 222h1v1h-1zM1163 223h2v1h-2zM1168 223h2v1h-2zM1165 224h3v1h-3zM1135 226h1v1h-1zM1133 229h1v1h-1zM1131 230h2v1h-2zM1210 230h2v1h-2zM1128 231h3v1h-3zM1212 231h2v1h-2zM1125 232h3v1h-3zM1117 233h1v1h-1zM1124 233h1v1h-1zM1116 234h1v1h-1zM1118 234h2v1h-2zM1122 234h2v1h-2zM1114 235h2v1h-2zM1120 235h2v1h-2zM1113 236h1v1h-1zM1217 238h1v1h-1zM1248 247h7v1h-7zM1245 248h3v1h-3zM1255 248h3v1h-3zM1244 249h1v1h-1zM1258 249h2v1h-2zM1229 250h1v1h-1zM1243 250h1v1h-1zM1260 250h2v1h-2zM1228 251h1v1h-1zM1230 251h1v1h-1zM1242 251h1v1h-1zM1262 251h1v1h-1zM1231 252h2v1h-2zM1241 252h1v1h-1zM1263 252h2v1h-2zM1233 253h2v1h-2zM1239 253h2v1h-2zM1265 253h1v1h-1zM1104 254h1v1h-1zM1226 254h1v1h-1zM1235 254h4v1h-4zM1102 255h2v1h-2zM1101 256h1v1h-1zM1267 256h1v1h-1zM1099 257h2v1h-2zM1098 258h1v1h-1zM1269 259h1v1h-1zM1275 270h1v1h-1zM1277 273h1v1h-1zM1281 280h1v1h-1zM1283 283h1v1h-1zM1285 286h1v1h-1zM1286 287h2v1h-2zM1292 287h2v1h-2zM1288 288h4v1h-4zM1294 288h1v1h-1zM1295 289h2v1h-2zM1297 290h1v1h-1zM1298 291h1v1h-1zM1299 292h2v1h-2zM1301 293h1v1h-1zM509 311h1v1h-1zM508 312h1v1h-1zM510 312h1v1h-1zM506 313h2v1h-2zM511 313h2v1h-2zM581 313h1v1h-1zM505 314h1v1h-1zM513 314h1v1h-1zM573 314h2v1h-2zM579 314h2v1h-2zM582 314h2v1h-2zM572 315h1v1h-1zM575 315h4v1h-4zM584 315h2v1h-2zM570 316h2v1h-2zM586 316h2v1h-2zM503 317h1v1h-1zM515 317h1v1h-1zM569 317h1v1h-1zM588 317h3v1h-3zM596 317h2v1h-2zM568 318h1v1h-1zM591 318h5v1h-5zM598 318h1v1h-1zM549 319h1v1h-1zM566 319h2v1h-2zM501 320h1v1h-1zM517 320h1v1h-1zM547 320h2v1h-2zM550 320h2v1h-2zM556 320h2v1h-2zM565 320h1v1h-1zM518 321h1v1h-1zM545 321h2v1h-2zM552 321h4v1h-4zM558 321h2v1h-2zM563 321h2v1h-2zM600 321h1v1h-1zM544 322h1v1h-1zM560 322h3v1h-3zM601 322h1v1h-1zM543 323h1v1h-1zM520 324h1v1h-1zM542 324h1v1h-1zM521 325h1v1h-1zM541 325h1v1h-1zM603 325h1v1h-1zM522 326h1v1h-1zM540 326h1v1h-1zM497 327h1v1h-1zM539 327h1v1h-1zM538 328h1v1h-1zM524 329h1v1h-1zM537 329h1v1h-1zM525 330h1v1h-1zM535 330h2v1h-2zM526 331h2v1h-2zM532 331h3v1h-3zM528 332h4v1h-4zM25 343h1v1h-1zM23 344h2v1h-2zM26 344h1v1h-1zM20 345h3v1h-3zM27 345h2v1h-2zM17 346h3v1h-3zM29 346h1v1h-1zM16 347h1v1h-1zM14 348h2v1h-2zM13 349h1v1h-1zM31 349h1v1h-1zM5 350h2v1h-2zM11 350h2v1h-2zM7 351h4v1h-4zM33 352h1v1h-1zM37 359h1v1h-1zM752 359h1v1h-1zM38 360h1v1h-1zM672 360h3v1h-3zM39 361h1v1h-1zM668 361h4v1h-4zM675 361h3v1h-3zM40 362h1v1h-1zM665 362h3v1h-3zM678 362h1v1h-1zM750 362h1v1h-1zM41 363h1v1h-1zM749 363h1v1h-1zM748 364h1v1h-1zM663 365h1v1h-1zM680 365h1v1h-1zM746 365h2v1h-2zM681 366h1v1h-1zM721 366h1v1h-1zM745 366h1v1h-1zM682 367h2v1h-2zM720 367h1v1h-1zM722 367h2v1h-2zM744 367h1v1h-1zM661 368h1v1h-1zM684 368h2v1h-2zM718 368h2v1h-2zM724 368h2v1h-2zM743 368h1v1h-1zM686 369h2v1h-2zM713 369h5v1h-5zM726 369h1v1h-1zM742 369h1v1h-1zM45 370h1v1h-1zM688 370h2v1h-2zM711 370h2v1h-2zM727 370h2v1h-2zM740 370h2v1h-2zM46 371h1v1h-1zM659 371h1v1h-1zM690 371h1v1h-1zM708 371h3v1h-3zM729 371h11v1h-11zM47 372h2v1h-2zM691 372h1v1h-1zM700 372h8v1h-8zM49 373h2v1h-2zM637 373h2v1h-2zM692 373h1v1h-1zM696 373h4v1h-4zM51 374h4v1h-4zM635 374h2v1h-2zM639 374h3v1h-3zM656 374h2v1h-2zM693 374h3v1h-3zM55 375h3v1h-3zM632 375h3v1h-3zM642 375h1v1h-1zM652 375h4v1h-4zM58 376h2v1h-2zM621 376h1v1h-1zM629 376h3v1h-3zM643 376h2v1h-2zM648 376h4v1h-4zM60 377h3v1h-3zM622 377h1v1h-1zM628 377h1v1h-1zM645 377h3v1h-3zM63 378h3v1h-3zM623 378h1v1h-1zM627 378h1v1h-1zM66 379h1v1h-1zM624 379h1v1h-1zM626 379h1v1h-1zM67 380h2v1h-2zM625 380h1v1h-1zM69 381h1v1h-1zM70 382h1v1h-1zM72 385h1v1h-1zM128 447h1v1h-1zM124 448h4v1h-4zM122 449h2v1h-2zM115 462h1v1h-1zM190 465h16v1h-16zM209 472h5v1h-5zM109 473h1v1h-1zM214 473h1v1h-1zM215 474h2v1h-2zM184 475h1v1h-1zM107 476h1v1h-1zM181 476h3v1h-3zM105 479h1v1h-1zM179 479h1v1h-1zM98 482h1v1h-1zM177 482h1v1h-1zM176 483h1v1h-1zM100 485h1v1h-1zM101 486h1v1h-1zM174 486h1v1h-1zM167 503h1v1h-1zM165 506h1v1h-1zM453 508h1v1h-1zM163 509h1v1h-1zM451 509h2v1h-2zM454 509h1v1h-1zM449 510h2v1h-2zM461 510h2v1h-2zM447 511h2v1h-2zM460 511h1v1h-1zM463 511h4v1h-4zM154 512h8v1h-8zM445 512h2v1h-2zM456 512h1v1h-1zM458 512h2v1h-2zM467 512h6v1h-6zM444 513h1v1h-1zM457 513h1v1h-1zM442 516h1v1h-1zM441 517h1v1h-1zM345 520h1v1h-1zM353 520h2v1h-2zM439 520h1v1h-1zM344 521h1v1h-1zM346 521h2v1h-2zM351 521h2v1h-2zM355 521h3v1h-3zM285 522h2v1h-2zM343 522h1v1h-1zM348 522h3v1h-3zM358 522h2v1h-2zM287 523h3v1h-3zM342 523h1v1h-1zM360 523h2v1h-2zM290 524h1v1h-1zM341 524h1v1h-1zM283 525h1v1h-1zM291 525h1v1h-1zM292 526h1v1h-1zM363 526h1v1h-1zM293 527h2v1h-2zM339 527h1v1h-1zM281 528h1v1h-1zM295 528h3v1h-3zM280 529h1v1h-1zM298 529h1v1h-1zM365 529h2v1h-2zM279 530h1v1h-1zM299 530h1v1h-1zM337 530h1v1h-1zM367 530h3v1h-3zM393 530h5v1h-5zM278 531h1v1h-1zM300 531h1v1h-1zM336 531h1v1h-1zM370 531h1v1h-1zM392 531h1v1h-1zM398 531h1v1h-1zM277 532h1v1h-1zM301 532h1v1h-1zM371 532h2v1h-2zM391 532h1v1h-1zM399 532h2v1h-2zM276 533h1v1h-1zM302 533h1v1h-1zM312 533h2v1h-2zM373 533h2v1h-2zM390 533h1v1h-1zM401 533h1v1h-1zM274 534h2v1h-2zM303 534h1v1h-1zM309 534h3v1h-3zM314 534h1v1h-1zM334 534h1v1h-1zM375 534h3v1h-3zM388 534h2v1h-2zM402 534h1v1h-1zM273 535h1v1h-1zM304 535h1v1h-1zM307 535h2v1h-2zM332 535h2v1h-2zM378 535h2v1h-2zM384 535h4v1h-4zM403 535h2v1h-2zM272 536h1v1h-1zM305 536h2v1h-2zM325 536h7v1h-7zM380 536h4v1h-4zM405 536h2v1h-2zM270 537h2v1h-2zM316 537h1v1h-1zM324 537h1v1h-1zM407 537h2v1h-2zM269 538h1v1h-1zM317 538h2v1h-2zM322 538h2v1h-2zM268 539h1v1h-1zM319 539h3v1h-3zM267 540h1v1h-1zM266 541h1v1h-1zM265 542h1v1h-1zM264 543h1v1h-1zM428 543h1v1h-1zM238 544h1v1h-1zM263 544h1v1h-1zM426 544h2v1h-2zM239 545h1v1h-1zM262 545h1v1h-1zM425 545h1v1h-1zM240 546h1v1h-1zM261 546h1v1h-1zM414 546h5v1h-5zM423 546h2v1h-2zM241 547h1v1h-1zM260 547h1v1h-1zM419 547h4v1h-4zM258 548h2v1h-2zM246 556h1v1h-1zM247 557h1v1h-1zM253 557h1v1h-1zM248 558h1v1h-1zM251 558h2v1h-2zM249 559h2v1h-2z" fill="#ffa500"/><path d="M8 33h7v1h-7zM9 34h5v1h-5zM10 35h3v1h-3zM11 36h1v1h-1z" fill="#000"/><path d="M1308 27h9v1h-9zM1309 28h7v1h-7zM1310 29h5v1h-5zM1311 30h3v1h-3zM1312 31h1v1h-1z" fill="#c0c0c0"/><path d="M6 627.5H1641" stroke="#c0c0c0" stroke-width="1" stroke-dasharray="3 3" fill="none"/><path d="M6 668.5H1641" stroke="#c0c0c0" stroke-width="1" stroke-dasharray="3 3" fill="none"/><path d="M19 646h1v2h-1zM50 658h1v2h-1zM52 655h1v2h-1zM59 654h1v2h-1zM73 659h1v2h-1zM74 661h1v2h-1zM75 663h1v2h-1zM76 665h1v2h-1zM77 667h1v2h-1zM78 669h1v2h-1zM80 672h1v2h-1zM101 672h1v2h-1zM102 669h1v3h-1zM103 666h1v3h-1zM104 663h1v3h-1zM105 661h1v2h-1zM111 658h1v2h-1zM129 656h1v2h-1zM130 658h1v2h-1zM131 660h1v3h-1zM132 663h1v2h-1zM133 665h1v2h-1zM153 673h1v2h-1zM154 669h1v4h-1zM155 665h1v4h-1zM156 661h1v4h-1zM157 658h1v3h-1zM162 654h1v2h-1zM164 651h1v2h-1zM167 652h1v2h-1zM171 652h1v2h-1zM190 644h1v2h-1zM191 646h1v2h-1zM192 648h1v2h-1zM217 653h1v2h-1zM218 655h1v3h-1zM219 658h1v2h-1zM220 660h1v3h-1zM221 663h1v2h-1zM238 667h1v2h-1zM240 664h1v2h-1zM267 655h1v2h-1zM286 648h1v2h-1zM287 650h1v2h-1zM288 652h1v2h-1zM294 654h1v2h-1zM295 652h1v2h-1zM296 650h1v2h-1zM315 654h1v2h-1zM322 651h1v2h-1zM324 648h1v2h-1zM338 646h1v2h-1zM340 643h1v2h-1zM346 642h1v2h-1zM347 644h1v2h-1zM348 646h1v2h-1zM349 648h1v2h-1zM359 647h1v2h-1zM362 646h1v2h-1zM363 648h1v2h-1zM364 650h1v2h-1zM378 651h1v2h-1zM380 648h1v2h-1zM394 645h1v2h-1zM395 647h1v2h-1zM396 649h1v2h-1zM397 651h1v2h-1zM407 651h1v2h-1zM409 649h1v2h-1zM410 651h1v3h-1zM411 654h1v2h-1zM412 656h1v3h-1zM413 659h1v2h-1zM414 657h1v2h-1zM415 654h1v3h-1zM416 652h1v2h-1zM417 650h1v2h-1zM427 645h1v2h-1zM434 640h1v2h-1zM435 638h1v2h-1zM436 636h1v2h-1zM438 636h1v2h-1zM439 638h1v2h-1zM440 640h1v2h-1zM441 642h1v2h-1zM454 641h1v2h-1zM455 643h1v2h-1zM456 645h1v2h-1zM458 645h1v2h-1zM459 643h1v2h-1zM460 641h1v2h-1zM473 641h1v4h-1zM474 634h1v7h-1zM475 627h1v7h-1zM476 620h1v7h-1zM477 616h1v4h-1zM563 629h1v2h-1zM574 630h1v2h-1zM575 632h1v2h-1zM576 634h1v2h-1zM577 636h1v2h-1zM597 636h1v2h-1zM598 638h1v4h-1zM599 642h1v3h-1zM600 645h1v4h-1zM601 649h1v2h-1zM605 650h1v2h-1zM606 652h1v4h-1zM607 656h1v4h-1zM608 660h1v4h-1zM609 664h1v2h-1zM610 663h1v2h-1zM612 660h1v2h-1zM645 659h1v2h-1zM646 657h1v2h-1zM647 654h1v3h-1zM648 652h1v2h-1zM649 650h1v2h-1zM657 652h1v2h-1zM658 650h1v2h-1zM659 648h1v2h-1zM660 646h1v2h-1zM661 644h1v2h-1zM674 647h1v2h-1zM675 649h1v2h-1zM676 651h1v2h-1zM677 653h1v2h-1zM683 651h1v2h-1zM722 647h1v2h-1zM723 649h1v2h-1zM724 651h1v2h-1zM730 653h1v2h-1zM731 651h1v2h-1zM732 649h1v2h-1zM733 647h1v2h-1zM738 646h1v2h-1zM740 643h1v2h-1zM750 642h1v2h-1zM751 640h1v2h-1zM752 638h1v2h-1zM753 635h1v3h-1zM754 631h1v4h-1zM755 627h1v4h-1zM756 623h1v4h-1zM757 620h1v3h-1zM761 617h1v2h-1zM762 615h1v2h-1zM763 612h1v3h-1zM764 610h1v2h-1zM765 608h1v2h-1zM766 610h1v3h-1zM767 613h1v4h-1zM768 617h1v3h-1zM769 620h1v2h-1zM774 619h1v2h-1zM776 622h1v2h-1zM789 622h1v3h-1zM790 625h1v5h-1zM791 630h1v4h-1zM792 634h1v5h-1zM793 639h1v3h-1zM795 638h1v2h-1zM827 629h1v2h-1zM846 625h1v2h-1zM848 628h1v2h-1zM865 627h1v2h-1zM866 629h1v2h-1zM867 631h1v3h-1zM868 634h1v2h-1zM869 636h1v2h-1zM874 640h1v2h-1zM876 643h1v2h-1zM893 645h1v2h-1zM894 647h1v2h-1zM895 649h1v3h-1zM896 652h1v2h-1zM897 654h1v2h-1zM898 656h1v2h-1zM900 659h1v2h-1zM907 655h1v2h-1zM911 650h1v2h-1zM927 644h1v2h-1zM966 638h1v2h-1zM968 641h1v2h-1zM971 645h1v2h-1zM978 648h1v2h-1zM979 646h1v2h-1zM980 644h1v2h-1zM982 641h1v2h-1zM984 638h1v2h-1zM987 639h1v2h-1zM989 642h1v2h-1zM990 644h1v2h-1zM991 646h1v2h-1zM992 648h1v2h-1zM993 650h1v2h-1zM995 653h1v2h-1zM1078 665h1v2h-1zM1080 668h1v2h-1zM1089 674h1v2h-1zM1090 672h1v2h-1zM1091 670h1v2h-1zM1092 668h1v2h-1zM1093 666h1v2h-1zM1097 666h1v2h-1zM1098 664h1v2h-1zM1099 662h1v2h-1zM1100 660h1v2h-1zM1101 658h1v2h-1zM1106 656h1v2h-1zM1108 653h1v2h-1zM1114 653h1v2h-1zM1115 655h1v2h-1zM1116 657h1v2h-1zM1122 656h1v2h-1zM1123 654h1v2h-1zM1124 652h1v2h-1zM1125 650h1v2h-1zM1159 650h1v2h-1zM1173 642h1v2h-1zM1174 640h1v2h-1zM1175 638h1v2h-1zM1176 636h1v2h-1zM1177 634h1v2h-1zM1178 636h1v2h-1zM1179 638h1v3h-1zM1180 641h1v2h-1zM1181 643h1v2h-1zM1195 649h1v2h-1zM1205 648h1v2h-1zM1206 650h1v4h-1zM1207 654h1v4h-1zM1208 658h1v4h-1zM1209 662h1v2h-1zM1210 659h1v3h-1zM1211 657h1v2h-1zM1212 654h1v3h-1zM1213 652h1v2h-1zM1293 658h1v2h-1zM1294 660h1v2h-1zM1295 662h1v2h-1zM1296 664h1v2h-1zM1297 666h1v2h-1zM1303 668h1v2h-1zM493 616h6v1h-6zM478 617h1v1h-1zM491 617h2v1h-2zM499 617h3v1h-3zM479 618h2v1h-2zM488 618h3v1h-3zM502 618h2v1h-2zM773 618h1v1h-1zM481 619h7v1h-7zM504 619h3v1h-3zM759 619h2v1h-2zM772 619h1v1h-1zM507 620h3v1h-3zM758 620h1v1h-1zM770 620h2v1h-2zM510 621h2v1h-2zM775 621h1v1h-1zM781 621h2v1h-2zM512 622h2v1h-2zM780 622h1v1h-1zM783 622h6v1h-6zM514 623h1v1h-1zM778 623h2v1h-2zM837 623h1v1h-1zM515 624h1v1h-1zM533 624h1v1h-1zM777 624h1v1h-1zM836 624h1v1h-1zM838 624h2v1h-2zM844 624h2v1h-2zM516 625h1v1h-1zM532 625h1v1h-1zM534 625h1v1h-1zM834 625h2v1h-2zM840 625h4v1h-4zM861 625h1v1h-1zM517 626h1v1h-1zM530 626h2v1h-2zM535 626h1v1h-1zM832 626h2v1h-2zM860 626h1v1h-1zM862 626h2v1h-2zM518 627h2v1h-2zM529 627h1v1h-1zM536 627h1v1h-1zM540 627h3v1h-3zM565 627h5v1h-5zM829 627h3v1h-3zM847 627h1v1h-1zM858 627h2v1h-2zM864 627h1v1h-1zM520 628h3v1h-3zM527 628h2v1h-2zM537 628h3v1h-3zM543 628h3v1h-3zM564 628h1v1h-1zM570 628h2v1h-2zM828 628h1v1h-1zM853 628h5v1h-5zM523 629h4v1h-4zM546 629h2v1h-2zM556 629h2v1h-2zM572 629h2v1h-2zM851 629h2v1h-2zM548 630h8v1h-8zM558 630h1v1h-1zM849 630h2v1h-2zM559 631h2v1h-2zM562 631h1v1h-1zM826 631h1v1h-1zM561 632h1v1h-1zM825 632h1v1h-1zM824 633h1v1h-1zM588 634h3v1h-3zM816 634h2v1h-2zM823 634h1v1h-1zM437 635h1v1h-1zM581 635h7v1h-7zM591 635h4v1h-4zM813 635h3v1h-3zM818 635h2v1h-2zM822 635h1v1h-1zM579 636h2v1h-2zM595 636h2v1h-2zM797 636h2v1h-2zM812 636h1v1h-1zM820 636h2v1h-2zM953 636h1v1h-1zM961 636h2v1h-2zM578 637h1v1h-1zM796 637h1v1h-1zM799 637h8v1h-8zM810 637h2v1h-2zM951 637h2v1h-2zM954 637h2v1h-2zM959 637h2v1h-2zM963 637h3v1h-3zM985 637h1v1h-1zM807 638h3v1h-3zM870 638h2v1h-2zM949 638h2v1h-2zM956 638h3v1h-3zM986 638h1v1h-1zM872 639h2v1h-2zM941 639h2v1h-2zM947 639h2v1h-2zM452 640h2v1h-2zM461 640h1v1h-1zM794 640h1v1h-1zM940 640h1v1h-1zM943 640h4v1h-4zM967 640h1v1h-1zM983 640h1v1h-1zM344 641h2v1h-2zM448 641h4v1h-4zM462 641h1v1h-1zM939 641h1v1h-1zM988 641h1v1h-1zM341 642h3v1h-3zM432 642h2v1h-2zM444 642h4v1h-4zM463 642h2v1h-2zM741 642h1v1h-1zM875 642h1v1h-1zM929 642h6v1h-6zM938 642h1v1h-1zM189 643h1v1h-1zM429 643h3v1h-3zM442 643h2v1h-2zM465 643h2v1h-2zM742 643h2v1h-2zM928 643h1v1h-1zM935 643h3v1h-3zM969 643h1v1h-1zM981 643h1v1h-1zM1141 643h1v1h-1zM16 644h2v1h-2zM188 644h1v1h-1zM393 644h1v1h-1zM428 644h1v1h-1zM467 644h6v1h-6zM662 644h1v1h-1zM744 644h6v1h-6zM885 644h1v1h-1zM970 644h1v1h-1zM1140 644h1v1h-1zM1142 644h2v1h-2zM1172 644h1v1h-1zM13 645h3v1h-3zM18 645h1v1h-1zM187 645h1v1h-1zM339 645h1v1h-1zM361 645h1v1h-1zM392 645h1v1h-1zM663 645h3v1h-3zM739 645h1v1h-1zM877 645h1v1h-1zM884 645h1v1h-1zM886 645h2v1h-2zM892 645h1v1h-1zM1139 645h1v1h-1zM1144 645h2v1h-2zM1171 645h1v1h-1zM1182 645h2v1h-2zM12 646h1v1h-1zM186 646h1v1h-1zM328 646h2v1h-2zM360 646h1v1h-1zM390 646h2v1h-2zM666 646h1v1h-1zM673 646h1v1h-1zM721 646h1v1h-1zM878 646h2v1h-2zM882 646h2v1h-2zM888 646h4v1h-4zM921 646h2v1h-2zM926 646h1v1h-1zM1133 646h2v1h-2zM1138 646h1v1h-1zM1146 646h1v1h-1zM1170 646h1v1h-1zM1184 646h2v1h-2zM11 647h1v1h-1zM181 647h5v1h-5zM201 647h2v1h-2zM284 647h2v1h-2zM325 647h3v1h-3zM330 647h1v1h-1zM381 647h1v1h-1zM389 647h1v1h-1zM426 647h1v1h-1zM457 647h1v1h-1zM667 647h2v1h-2zM671 647h2v1h-2zM708 647h3v1h-3zM719 647h2v1h-2zM734 647h1v1h-1zM880 647h2v1h-2zM920 647h1v1h-1zM923 647h3v1h-3zM972 647h1v1h-1zM1131 647h2v1h-2zM1135 647h3v1h-3zM1147 647h1v1h-1zM1169 647h1v1h-1zM1186 647h1v1h-1zM1197 647h1v1h-1zM10 648h1v1h-1zM20 648h1v1h-1zM179 648h2v1h-2zM200 648h1v1h-1zM203 648h3v1h-3zM280 648h4v1h-4zM331 648h1v1h-1zM337 648h1v1h-1zM352 648h2v1h-2zM382 648h1v1h-1zM388 648h1v1h-1zM425 648h1v1h-1zM669 648h2v1h-2zM705 648h3v1h-3zM711 648h8v1h-8zM735 648h3v1h-3zM913 648h2v1h-2zM918 648h2v1h-2zM973 648h1v1h-1zM1129 648h2v1h-2zM1148 648h1v1h-1zM1161 648h2v1h-2zM1167 648h2v1h-2zM1187 648h2v1h-2zM1196 648h1v1h-1zM1198 648h1v1h-1zM9 649h1v1h-1zM21 649h2v1h-2zM176 649h3v1h-3zM198 649h2v1h-2zM206 649h1v1h-1zM276 649h4v1h-4zM297 649h1v1h-1zM309 649h1v1h-1zM332 649h1v1h-1zM335 649h2v1h-2zM350 649h2v1h-2zM354 649h2v1h-2zM358 649h1v1h-1zM383 649h2v1h-2zM386 649h2v1h-2zM424 649h1v1h-1zM652 649h2v1h-2zM685 649h1v1h-1zM704 649h1v1h-1zM912 649h1v1h-1zM915 649h3v1h-3zM974 649h2v1h-2zM1127 649h2v1h-2zM1149 649h1v1h-1zM1160 649h1v1h-1zM1163 649h4v1h-4zM1189 649h1v1h-1zM1199 649h2v1h-2zM1203 649h2v1h-2zM8 650h1v1h-1zM23 650h3v1h-3zM165 650h1v1h-1zM173 650h3v1h-3zM193 650h5v1h-5zM207 650h1v1h-1zM213 650h1v1h-1zM273 650h3v1h-3zM298 650h1v1h-1zM308 650h1v1h-1zM310 650h1v1h-1zM323 650h1v1h-1zM333 650h2v1h-2zM356 650h2v1h-2zM379 650h1v1h-1zM385 650h1v1h-1zM408 650h1v1h-1zM418 650h1v1h-1zM422 650h2v1h-2zM602 650h3v1h-3zM650 650h2v1h-2zM654 650h1v1h-1zM684 650h1v1h-1zM686 650h2v1h-2zM697 650h1v1h-1zM703 650h1v1h-1zM976 650h2v1h-2zM1013 650h1v1h-1zM1126 650h1v1h-1zM1150 650h1v1h-1zM1190 650h1v1h-1zM1201 650h2v1h-2zM1245 650h2v1h-2zM7 651h1v1h-1zM26 651h1v1h-1zM166 651h1v1h-1zM172 651h1v1h-1zM208 651h1v1h-1zM211 651h2v1h-2zM214 651h1v1h-1zM272 651h1v1h-1zM299 651h1v1h-1zM307 651h1v1h-1zM311 651h2v1h-2zM368 651h3v1h-3zM419 651h3v1h-3zM655 651h1v1h-1zM688 651h2v1h-2zM696 651h1v1h-1zM698 651h2v1h-2zM702 651h1v1h-1zM1012 651h1v1h-1zM1014 651h1v1h-1zM1151 651h1v1h-1zM1191 651h2v1h-2zM1194 651h1v1h-1zM1244 651h1v1h-1zM1247 651h3v1h-3zM6 652h1v1h-1zM27 652h1v1h-1zM57 652h1v1h-1zM209 652h2v1h-2zM215 652h2v1h-2zM270 652h2v1h-2zM300 652h1v1h-1zM306 652h1v1h-1zM313 652h1v1h-1zM365 652h3v1h-3zM371 652h4v1h-4zM398 652h1v1h-1zM656 652h1v1h-1zM690 652h2v1h-2zM694 652h2v1h-2zM700 652h2v1h-2zM910 652h1v1h-1zM994 652h1v1h-1zM1011 652h1v1h-1zM1015 652h1v1h-1zM1109 652h5v1h-5zM1152 652h1v1h-1zM1158 652h1v1h-1zM1193 652h1v1h-1zM1242 652h2v1h-2zM1250 652h2v1h-2zM5 653h1v1h-1zM28 653h1v1h-1zM55 653h2v1h-2zM58 653h1v1h-1zM121 653h1v1h-1zM163 653h1v1h-1zM269 653h1v1h-1zM301 653h5v1h-5zM314 653h1v1h-1zM321 653h1v1h-1zM375 653h3v1h-3zM399 653h4v1h-4zM406 653h1v1h-1zM682 653h1v1h-1zM692 653h2v1h-2zM725 653h1v1h-1zM909 653h1v1h-1zM1010 653h1v1h-1zM1016 653h1v1h-1zM1153 653h5v1h-5zM1214 653h2v1h-2zM1240 653h2v1h-2zM1252 653h2v1h-2zM29 654h9v1h-9zM53 654h2v1h-2zM120 654h1v1h-1zM122 654h1v1h-1zM168 654h1v1h-1zM170 654h1v1h-1zM257 654h1v1h-1zM268 654h1v1h-1zM289 654h1v1h-1zM320 654h1v1h-1zM403 654h3v1h-3zM625 654h6v1h-6zM678 654h4v1h-4zM726 654h2v1h-2zM908 654h1v1h-1zM1009 654h1v1h-1zM1017 654h2v1h-2zM1216 654h2v1h-2zM1229 654h11v1h-11zM1254 654h1v1h-1zM38 655h2v1h-2zM119 655h1v1h-1zM123 655h1v1h-1zM169 655h1v1h-1zM256 655h1v1h-1zM258 655h2v1h-2zM290 655h2v1h-2zM319 655h1v1h-1zM624 655h1v1h-1zM631 655h3v1h-3zM728 655h2v1h-2zM996 655h1v1h-1zM1008 655h1v1h-1zM1019 655h4v1h-4zM1033 655h1v1h-1zM1056 655h2v1h-2zM1107 655h1v1h-1zM1218 655h1v1h-1zM1227 655h2v1h-2zM1255 655h2v1h-2zM1260 655h3v1h-3zM40 656h2v1h-2zM60 656h1v1h-1zM113 656h2v1h-2zM118 656h1v1h-1zM124 656h1v1h-1zM128 656h1v1h-1zM161 656h1v1h-1zM254 656h2v1h-2zM260 656h2v1h-2zM292 656h2v1h-2zM316 656h1v1h-1zM318 656h1v1h-1zM622 656h2v1h-2zM634 656h2v1h-2zM997 656h2v1h-2zM1007 656h1v1h-1zM1023 656h4v1h-4zM1031 656h2v1h-2zM1034 656h1v1h-1zM1041 656h1v1h-1zM1053 656h3v1h-3zM1058 656h1v1h-1zM1219 656h2v1h-2zM1224 656h3v1h-3zM1257 656h3v1h-3zM1263 656h3v1h-3zM42 657h1v1h-1zM51 657h1v1h-1zM61 657h1v1h-1zM112 657h1v1h-1zM115 657h3v1h-3zM125 657h3v1h-3zM159 657h2v1h-2zM253 657h1v1h-1zM262 657h2v1h-2zM266 657h1v1h-1zM317 657h1v1h-1zM621 657h1v1h-1zM636 657h6v1h-6zM906 657h1v1h-1zM999 657h4v1h-4zM1006 657h1v1h-1zM1027 657h4v1h-4zM1035 657h2v1h-2zM1039 657h2v1h-2zM1042 657h1v1h-1zM1052 657h1v1h-1zM1059 657h2v1h-2zM1221 657h3v1h-3zM1266 657h1v1h-1zM43 658h2v1h-2zM62 658h2v1h-2zM158 658h1v1h-1zM252 658h1v1h-1zM264 658h2v1h-2zM620 658h1v1h-1zM642 658h1v1h-1zM899 658h1v1h-1zM905 658h1v1h-1zM1003 658h3v1h-3zM1037 658h2v1h-2zM1043 658h2v1h-2zM1051 658h1v1h-1zM1061 658h1v1h-1zM1102 658h4v1h-4zM1120 658h2v1h-2zM1267 658h1v1h-1zM45 659h2v1h-2zM64 659h2v1h-2zM251 659h1v1h-1zM613 659h1v1h-1zM619 659h1v1h-1zM643 659h2v1h-2zM904 659h1v1h-1zM1045 659h2v1h-2zM1050 659h1v1h-1zM1062 659h1v1h-1zM1117 659h3v1h-3zM1268 659h1v1h-1zM1292 659h1v1h-1zM47 660h3v1h-3zM66 660h1v1h-1zM72 660h1v1h-1zM110 660h1v1h-1zM250 660h1v1h-1zM614 660h2v1h-2zM618 660h1v1h-1zM902 660h2v1h-2zM1047 660h3v1h-3zM1063 660h2v1h-2zM1073 660h1v1h-1zM1269 660h1v1h-1zM1291 660h1v1h-1zM67 661h1v1h-1zM71 661h1v1h-1zM106 661h4v1h-4zM225 661h1v1h-1zM249 661h1v1h-1zM616 661h2v1h-2zM901 661h1v1h-1zM1065 661h1v1h-1zM1072 661h1v1h-1zM1074 661h1v1h-1zM1270 661h1v1h-1zM1290 661h1v1h-1zM68 662h1v1h-1zM70 662h1v1h-1zM224 662h1v1h-1zM226 662h2v1h-2zM248 662h1v1h-1zM611 662h1v1h-1zM1066 662h2v1h-2zM1070 662h2v1h-2zM1075 662h1v1h-1zM1271 662h1v1h-1zM1288 662h2v1h-2zM69 663h1v1h-1zM222 663h2v1h-2zM228 663h2v1h-2zM241 663h1v1h-1zM247 663h1v1h-1zM1068 663h2v1h-2zM1076 663h1v1h-1zM1272 663h1v1h-1zM1285 663h3v1h-3zM230 664h2v1h-2zM242 664h2v1h-2zM246 664h1v1h-1zM1077 664h1v1h-1zM1273 664h1v1h-1zM1283 664h2v1h-2zM141 665h1v1h-1zM232 665h2v1h-2zM244 665h2v1h-2zM1274 665h2v1h-2zM1280 665h3v1h-3zM134 666h1v1h-1zM139 666h2v1h-2zM142 666h2v1h-2zM234 666h1v1h-1zM239 666h1v1h-1zM1094 666h1v1h-1zM1276 666h4v1h-4zM1300 666h2v1h-2zM135 667h4v1h-4zM144 667h2v1h-2zM235 667h1v1h-1zM1079 667h1v1h-1zM1095 667h2v1h-2zM1298 667h2v1h-2zM1302 667h1v1h-1zM146 668h1v1h-1zM236 668h1v1h-1zM147 669h1v1h-1zM237 669h1v1h-1zM148 670h1v1h-1zM1081 670h2v1h-2zM1304 670h1v1h-1zM79 671h1v1h-1zM149 671h1v1h-1zM1083 671h3v1h-3zM1305 671h1v1h-1zM97 672h2v1h-2zM150 672h1v1h-1zM1086 672h1v1h-1zM96 673h1v1h-1zM99 673h2v1h-2zM151 673h2v1h-2zM1087 673h1v1h-1zM81 674h1v1h-1zM94 674h2v1h-2zM1088 674h1v1h-1zM82 675h1v1h-1zM92 675h2v1h-2zM83 676h2v1h-2zM88 676h4v1h-4zM85 677h3v1h-3z" fill="#1e90ff"/><path d="M5 764h1v9h-1zM9 764h1v8h-1zM13 764h1v6h-1zM17 764h1v5h-1zM21 764h1v4h-1zM25 764h1v4h-1zM29 764h1v5h-1zM33 764h1v6h-1zM37 764h1v7h-1zM41 764h1v8h-1zM45 764h1v9h-1zM49 764h1v10h-1zM53 764h1v10h-1zM57 764h1v9h-1zM61 764h1v10h-1zM65 764h1v10h-1zM69 764h1v12h-1zM73 764h1v13h-1zM77 764h1v16h-1zM81 764h1v21h-1zM85 764h1v26h-1zM89 764h1v30h-1zM93 764h1v33h-1zM97 764h1v34h-1zM101 764h1v35h-1zM105 764h1v33h-1zM109 764h1v31h-1zM113 764h1v28h-1zM117 764h1v26h-1zM121 764h1v23h-1zM125 764h1v22h-1zM129 764h1v21h-1zM133 764h1v23h-1zM137 764h1v24h-1zM141 764h1v25h-1zM145 764h1v26h-1zM149 764h1v28h-1zM153 764h1v31h-1zM157 764h1v29h-1zM161 764h1v27h-1zM165 764h1v24h-1zM169 764h1v22h-1zM173 764h1v20h-1zM177 764h1v17h-1zM181 764h1v14h-1zM185 764h1v12h-1zM189 764h1v8h-1zM193 764h1v8h-1zM197 764h1v7h-1zM201 764h1v6h-1zM205 764h1v5h-1zM209 764h1v5h-1zM213 764h1v5h-1zM217 764h1v6h-1zM221 764h1v10h-1zM225 764h1v12h-1zM229 764h1v15h-1zM233 764h1v18h-1zM237 764h1v21h-1zM241 764h1v23h-1zM245 764h1v25h-1zM249 764h1v25h-1zM253 764h1v24h-1zM257 764h1v22h-1zM261 764h1v21h-1zM265 764h1v20h-1zM269 764h1v18h-1zM273 764h1v16h-1zM277 764h1v14h-1zM281 764h1v12h-1zM285 764h1v10h-1zM289 764h1v10h-1zM293 764h1v10h-1zM297 764h1v9h-1zM301 764h1v9h-1zM305 764h1v9h-1zM309 764h1v8h-1zM313 764h1v7h-1zM317 764h1v8h-1zM321 764h1v8h-1zM325 764h1v7h-1zM329 764h1v5h-1zM333 764h1v5h-1zM337 764h1v4h-1zM341 764h1v2h-1zM345 764h1v1h-1zM349 764h1v1h-1zM353 764h1v1h-1zM357 764h1v1h-1zM361 764h1v1h-1zM365 764h1v1h-1zM369 764h1v2h-1zM373 764h1v2h-1zM377 764h1v3h-1zM381 764h1v3h-1zM385 764h1v3h-1zM389 764h1v2h-1zM393 764h1v1h-1zM397 764h1v2h-1zM401 764h1v3h-1zM405 764h1v3h-1zM409 764h1v3h-1zM413 764h1v5h-1zM417 764h1v5h-1zM421 764h1v5h-1zM425 764h1v4h-1zM429 764h1v3h-1zM433 764h1v1h-1zM437 762h1v2h-1zM441 761h1v3h-1zM445 760h1v4h-1zM449 759h1v5h-1zM453 758h1v6h-1zM457 759h1v5h-1zM461 758h1v6h-1zM465 758h1v6h-1zM469 758h1v6h-1zM473 758h1v6h-1zM477 745h1v19h-1zM481 735h1v29h-1zM485 728h1v36h-1zM489 722h1v42h-1zM493 715h1v49h-1zM497 711h1v53h-1zM501 708h1v56h-1zM505 707h1v57h-1zM509 707h1v57h-1zM513 708h1v56h-1zM517 710h1v54h-1zM521 713h1v51h-1zM525 716h1v48h-1zM529 718h1v46h-1zM533 719h1v45h-1zM537 721h1v43h-1zM541 723h1v41h-1zM545 724h1v40h-1zM549 727h1v37h-1zM553 729h1v35h-1zM557 731h1v33h-1zM561 733h1v31h-1zM565 734h1v30h-1zM569 734h1v30h-1zM573 735h1v29h-1zM577 738h1v26h-1zM581 740h1v24h-1zM585 741h1v23h-1zM589 743h1v21h-1zM593 744h1v20h-1zM597 745h1v19h-1zM601 749h1v15h-1zM605 752h1v12h-1zM609 758h1v6h-1zM613 762h1v2h-1zM617 764h1v1h-1zM621 764h1v3h-1zM625 764h1v4h-1zM629 764h1v5h-1zM633 764h1v6h-1zM637 764h1v7h-1zM641 764h1v7h-1zM645 764h1v8h-1zM649 764h1v8h-1zM653 764h1v7h-1zM657 764h1v7h-1zM661 764h1v5h-1zM665 764h1v4h-1zM669 764h1v3h-1zM673 764h1v2h-1zM677 764h1v3h-1zM681 764h1v4h-1zM685 764h1v4h-1zM689 764h1v4h-1zM693 764h1v4h-1zM697 764h1v4h-1zM701 764h1v4h-1zM705 764h1v4h-1zM709 764h1v3h-1zM713 764h1v3h-1zM717 764h1v2h-1zM721 764h1v2h-1zM725 764h1v2h-1zM729 764h1v3h-1zM733 764h1v3h-1zM737 764h1v2h-1zM741 764h1v1h-1zM745 764h1v1h-1zM749 764h1v1h-1zM753 762h1v2h-1zM757 756h1v8h-1zM761 750h1v14h-1zM765 737h1v27h-1zM769 730h1v34h-1zM773 723h1v41h-1zM777 719h1v45h-1zM781 714h1v50h-1zM785 711h1v53h-1zM789 709h1v55h-1zM793 714h1v50h-1zM797 716h1v48h-1zM801 719h1v45h-1zM805 721h1v43h-1zM809 724h1v40h-1zM813 725h1v39h-1zM817 726h1v38h-1zM821 727h1v37h-1zM825 726h1v38h-1zM829 724h1v40h-1zM833 721h1v43h-1zM837 717h1v47h-1zM841 715h1v49h-1zM845 714h1v50h-1zM849 715h1v49h-1zM853 715h1v49h-1zM857 716h1v48h-1zM861 715h1v49h-1zM865 715h1v49h-1zM869 719h1v45h-1zM873 723h1v41h-1zM877 728h1v36h-1zM881 734h1v30h-1zM885 737h1v27h-1zM889 741h1v23h-1zM893 744h1v20h-1zM897 750h1v14h-1zM901 758h1v6h-1zM905 763h1v1h-1zM909 764h1v1h-1zM913 764h1v2h-1zM917 764h1v2h-1zM921 764h1v1h-1zM925 764h1v1h-1zM929 763h1v1h-1zM933 761h1v3h-1zM937 760h1v4h-1zM941 758h1v6h-1zM945 756h1v8h-1zM949 755h1v9h-1zM953 753h1v11h-1zM957 752h1v12h-1zM961 751h1v13h-1zM965 750h1v14h-1zM969 751h1v13h-1zM973 753h1v11h-1zM977 755h1v9h-1zM981 756h1v8h-1zM985 754h1v10h-1zM989 754h1v10h-1zM993 757h1v7h-1zM997 761h1v3h-1zM1001 764h1v1h-1zM1005 764h1v4h-1zM1009 764h1v5h-1zM1013 764h1v5h-1zM1017 764h1v7h-1zM1021 764h1v8h-1zM1025 764h1v9h-1zM1029 764h1v10h-1zM1033 764h1v10h-1zM1037 764h1v11h-1zM1041 764h1v11h-1zM1045 764h1v12h-1zM1049 764h1v14h-1zM1053 764h1v13h-1zM1057 764h1v13h-1zM1061 764h1v13h-1zM1065 764h1v14h-1zM1069 764h1v15h-1zM1073 764h1v15h-1zM1077 764h1v17h-1zM1081 764h1v19h-1zM1085 764h1v22h-1zM1089 764h1v25h-1zM1093 764h1v26h-1zM1097 764h1v26h-1zM1101 764h1v25h-1zM1105 764h1v23h-1zM1109 764h1v21h-1zM1113 764h1v18h-1zM1117 764h1v18h-1zM1121 764h1v18h-1zM1125 764h1v16h-1zM1129 764h1v13h-1zM1133 764h1v11h-1zM1137 764h1v9h-1zM1141 764h1v7h-1zM1145 764h1v5h-1zM1149 764h1v4h-1zM1153 764h1v5h-1zM1157 764h1v5h-1zM1161 764h1v5h-1zM1165 764h1v4h-1zM1169 764h1v3h-1zM1173 764h1v2h-1zM1177 762h1v2h-1zM1181 762h1v2h-1zM1185 762h1v2h-1zM1189 763h1v1h-1zM1193 764h1v1h-1zM1197 764h1v1h-1zM1201 764h1v1h-1zM1205 764h1v1h-1zM1209 764h1v5h-1zM1213 764h1v5h-1zM1217 764h1v7h-1zM1221 764h1v9h-1zM1225 764h1v10h-1zM1229 764h1v10h-1zM1233 764h1v10h-1zM1237 764h1v10h-1zM1241 764h1v10h-1zM1245 764h1v9h-1zM1249 764h1v8h-1zM1253 764h1v8h-1zM1257 764h1v9h-1zM1261 764h1v9h-1zM1265 764h1v9h-1zM1269 764h1v10h-1zM1273 764h1v12h-1zM1277 764h1v14h-1zM1281 764h1v15h-1zM1285 764h1v15h-1zM1289 764h1v15h-1zM1293 764h1v15h-1zM1297 764h1v16h-1zM1301 764h1v17h-1zM1305 764h1v19h-1z" fill="#c0c0c0"/><path d="M491 744h1v2h-1zM500 732h1v2h-1zM786 732h1v2h-1zM903 739h1v2h-1zM907 744h1v2h-1zM521 711h2v1h-2zM526 711h3v1h-3zM520 712h1v1h-1zM532 712h3v1h-3zM516 714h1v1h-1zM538 714h2v1h-2zM514 715h2v1h-2zM540 715h1v1h-1zM806 716h3v1h-3zM866 716h3v1h-3zM872 716h2v1h-2zM544 717h2v1h-2zM801 717h2v1h-2zM812 717h3v1h-3zM860 717h3v1h-3zM874 717h1v1h-1zM546 718h1v1h-1zM800 718h1v1h-1zM856 718h1v1h-1zM510 719h1v1h-1zM818 719h2v1h-2zM854 719h2v1h-2zM878 719h2v1h-2zM509 720h1v1h-1zM550 720h2v1h-2zM796 720h1v1h-1zM820 720h1v1h-1zM849 720h2v1h-2zM880 720h1v1h-1zM508 721h1v1h-1zM552 721h1v1h-1zM795 721h1v1h-1zM848 721h1v1h-1zM794 722h1v1h-1zM824 722h3v1h-3zM844 722h1v1h-1zM884 722h1v1h-1zM556 723h2v1h-2zM830 723h1v1h-1zM836 723h3v1h-3zM842 723h2v1h-2zM885 723h1v1h-1zM558 724h1v1h-1zM831 724h2v1h-2zM886 724h1v1h-1zM506 725h1v1h-1zM505 726h1v1h-1zM562 726h2v1h-2zM791 726h1v1h-1zM890 726h1v1h-1zM504 727h1v1h-1zM564 727h1v1h-1zM790 727h1v1h-1zM891 727h1v1h-1zM568 728h2v1h-2zM789 728h1v1h-1zM892 728h1v1h-1zM570 729h1v1h-1zM501 731h1v1h-1zM574 731h2v1h-2zM576 732h1v1h-1zM896 732h1v1h-1zM580 733h2v1h-2zM897 733h1v1h-1zM582 734h1v1h-1zM785 734h1v1h-1zM898 734h1v1h-1zM586 736h2v1h-2zM497 737h1v1h-1zM588 737h1v1h-1zM496 738h1v1h-1zM592 738h3v1h-3zM782 738h1v1h-1zM902 738h1v1h-1zM495 739h1v1h-1zM781 739h1v1h-1zM598 740h2v1h-2zM780 740h1v1h-1zM600 741h1v1h-1zM492 743h1v1h-1zM604 743h2v1h-2zM606 744h1v1h-1zM778 744h1v1h-1zM777 745h1v1h-1zM610 746h1v1h-1zM776 746h1v1h-1zM908 746h1v1h-1zM611 747h2v1h-2zM487 749h1v1h-1zM486 750h1v1h-1zM616 750h1v1h-1zM773 750h1v1h-1zM912 750h1v1h-1zM485 751h1v1h-1zM617 751h1v1h-1zM772 751h1v1h-1zM913 751h1v1h-1zM618 752h1v1h-1zM771 752h1v1h-1zM914 752h1v1h-1zM972 753h3v1h-3zM978 753h3v1h-3zM984 753h3v1h-3zM990 753h3v1h-3zM481 754h1v1h-1zM968 754h1v1h-1zM996 754h2v1h-2zM480 755h1v1h-1zM622 755h1v1h-1zM966 755h2v1h-2zM998 755h1v1h-1zM479 756h1v1h-1zM623 756h2v1h-2zM768 756h1v1h-1zM918 756h1v1h-1zM961 756h2v1h-2zM767 757h1v1h-1zM919 757h2v1h-2zM960 757h1v1h-1zM1002 757h2v1h-2zM475 758h1v1h-1zM766 758h1v1h-1zM956 758h1v1h-1zM1004 758h1v1h-1zM468 759h2v1h-2zM473 759h2v1h-2zM628 759h2v1h-2zM954 759h2v1h-2zM467 760h1v1h-1zM630 760h1v1h-1zM924 760h2v1h-2zM1008 760h3v1h-3zM461 761h3v1h-3zM762 761h1v1h-1zM926 761h1v1h-1zM948 761h3v1h-3zM456 762h2v1h-2zM761 762h1v1h-1zM944 762h1v1h-1zM1014 762h2v1h-2zM455 763h1v1h-1zM634 763h2v1h-2zM760 763h1v1h-1zM930 763h2v1h-2zM942 763h2v1h-2zM1016 763h1v1h-1zM1206 763h1v1h-1zM449 764h3v1h-3zM636 764h1v1h-1zM756 764h1v1h-1zM932 764h1v1h-1zM936 764h3v1h-3zM1196 764h1v1h-1zM1200 764h3v1h-3zM1207 764h2v1h-2zM1212 764h3v1h-3zM371 765h3v1h-3zM377 765h2v1h-2zM754 765h2v1h-2zM1020 765h2v1h-2zM1188 765h3v1h-3zM1194 765h2v1h-2zM360 766h2v1h-2zM365 766h3v1h-3zM379 766h1v1h-1zM383 766h3v1h-3zM389 766h3v1h-3zM395 766h3v1h-3zM401 766h3v1h-3zM407 766h3v1h-3zM443 766h3v1h-3zM640 766h1v1h-1zM742 766h3v1h-3zM748 766h3v1h-3zM1022 766h1v1h-1zM1184 766h1v1h-1zM1218 766h2v1h-2zM359 767h1v1h-1zM413 767h3v1h-3zM419 767h3v1h-3zM437 767h3v1h-3zM641 767h2v1h-2zM720 767h1v1h-1zM724 767h3v1h-3zM730 767h3v1h-3zM736 767h3v1h-3zM1182 767h2v1h-2zM1220 767h1v1h-1zM353 768h3v1h-3zM425 768h3v1h-3zM431 768h3v1h-3zM646 768h1v1h-1zM684 768h1v1h-1zM688 768h3v1h-3zM694 768h3v1h-3zM700 768h3v1h-3zM706 768h3v1h-3zM712 768h3v1h-3zM718 768h2v1h-2zM1026 768h2v1h-2zM1172 768h1v1h-1zM1176 768h3v1h-3zM1224 768h3v1h-3zM347 769h3v1h-3zM647 769h2v1h-2zM676 769h3v1h-3zM682 769h2v1h-2zM1028 769h1v1h-1zM1170 769h2v1h-2zM1230 769h1v1h-1zM35 770h3v1h-3zM41 770h3v1h-3zM341 770h3v1h-3zM652 770h3v1h-3zM658 770h3v1h-3zM664 770h3v1h-3zM670 770h3v1h-3zM1032 770h2v1h-2zM1164 770h3v1h-3zM1231 770h2v1h-2zM24 771h2v1h-2zM29 771h3v1h-3zM47 771h3v1h-3zM53 771h2v1h-2zM216 771h2v1h-2zM221 771h3v1h-3zM335 771h3v1h-3zM1034 771h1v1h-1zM1160 771h1v1h-1zM1236 771h3v1h-3zM23 772h1v1h-1zM55 772h1v1h-1zM59 772h3v1h-3zM215 772h1v1h-1zM227 772h3v1h-3zM324 772h2v1h-2zM329 772h3v1h-3zM1038 772h1v1h-1zM1158 772h2v1h-2zM1242 772h1v1h-1zM17 773h3v1h-3zM65 773h3v1h-3zM209 773h3v1h-3zM233 773h1v1h-1zM312 773h2v1h-2zM317 773h3v1h-3zM323 773h1v1h-1zM1039 773h2v1h-2zM1044 773h3v1h-3zM1243 773h2v1h-2zM1248 773h3v1h-3zM1254 773h3v1h-3zM1260 773h3v1h-3zM1266 773h3v1h-3zM1272 773h3v1h-3zM12 774h2v1h-2zM71 774h3v1h-3zM234 774h2v1h-2zM311 774h1v1h-1zM1050 774h1v1h-1zM1152 774h3v1h-3zM1278 774h3v1h-3zM11 775h1v1h-1zM77 775h2v1h-2zM205 775h1v1h-1zM305 775h3v1h-3zM1051 775h2v1h-2zM1284 775h3v1h-3zM5 776h3v1h-3zM79 776h1v1h-1zM203 776h2v1h-2zM239 776h1v1h-1zM300 776h2v1h-2zM1056 776h3v1h-3zM1062 776h1v1h-1zM1147 776h2v1h-2zM1290 776h1v1h-1zM83 777h1v1h-1zM240 777h2v1h-2zM299 777h1v1h-1zM1063 777h2v1h-2zM1068 777h3v1h-3zM1146 777h1v1h-1zM1291 777h2v1h-2zM1296 777h3v1h-3zM84 778h2v1h-2zM199 778h1v1h-1zM293 778h3v1h-3zM1074 778h3v1h-3zM1302 778h1v1h-1zM197 779h2v1h-2zM245 779h1v1h-1zM1080 779h3v1h-3zM1140 779h3v1h-3zM1303 779h2v1h-2zM89 780h1v1h-1zM246 780h2v1h-2zM288 780h2v1h-2zM1086 780h1v1h-1zM90 781h1v1h-1zM193 781h1v1h-1zM287 781h1v1h-1zM1087 781h2v1h-2zM1135 781h2v1h-2zM91 782h1v1h-1zM191 782h2v1h-2zM251 782h1v1h-1zM283 782h1v1h-1zM1092 782h2v1h-2zM1134 782h1v1h-1zM252 783h2v1h-2zM281 783h2v1h-2zM1094 783h1v1h-1zM257 784h2v1h-2zM276 784h2v1h-2zM1098 784h1v1h-1zM1128 784h3v1h-3zM95 785h2v1h-2zM186 785h2v1h-2zM259 785h1v1h-1zM275 785h1v1h-1zM1099 785h2v1h-2zM1124 785h1v1h-1zM97 786h1v1h-1zM185 786h1v1h-1zM263 786h3v1h-3zM269 786h3v1h-3zM1104 786h3v1h-3zM1122 786h2v1h-2zM181 787h1v1h-1zM1110 787h3v1h-3zM1116 787h3v1h-3zM101 788h1v1h-1zM144 788h2v1h-2zM149 788h2v1h-2zM179 788h2v1h-2zM102 789h1v1h-1zM143 789h1v1h-1zM151 789h1v1h-1zM155 789h3v1h-3zM103 790h1v1h-1zM137 790h3v1h-3zM161 790h3v1h-3zM167 790h3v1h-3zM173 790h3v1h-3zM132 791h2v1h-2zM107 792h1v1h-1zM131 792h1v1h-1zM108 793h2v1h-2zM127 793h1v1h-1zM113 794h2v1h-2zM120 794h2v1h-2zM125 794h2v1h-2zM115 795h1v1h-1zM119 795h1v1h-1z" fill="#ff0000"/><rect x="4" y="26" width="1638" height="1" fill="#000"/><rect x="4" y="593" width="1638" height="1" fill="#000"/><rect x="4" y="26" width="1" height="568" fill="#000"/><rect x="1641" y="26" width="1" height="568" fill="#000"/><rect x="4" y="595" width="1638" height="1" fill="#000"/><rect x="4" y="699" width="1638" height="1" fill="#000"/><rect x="4" y="595" width="1" height="105" fill="#000"/><rect x="1641" y="595" width="1" height="105" fill="#000"/><rect x="4" y="701" width="1638" height="1" fill="#000"/><rect x="4" y="804" width="1638" height="1" fill="#000"/><rect x="4" y="701" width="1" height="104" fill="#000"/><rect x="1641" y="701" width="1" height="104" fill="#000"/><rect x="5" y="45" width="1636" height="2" fill="#ff0000"/><rect x="4" y="43" width="6" height="6" fill="#ff0000"/><rect x="6" y="45" width="2" height="2" fill="#fff"/><rect x="1635" y="43" width="6" height="6" fill="#ff0000"/><rect x="1637" y="45" width="2" height="2" fill="#fff"/><rect x="5" y="147" width="1636" height="2" fill="#ff0000"/><rect x="4" y="145" width="6" height="6" fill="#ff0000"/><rect x="6" y="147" width="2" height="2" fill="#fff"/><rect x="1635" y="145" width="6" height="6" fill="#ff0000"/><rect x="1637" y="147" width="2" height="2" fill="#fff"/><rect x="5" y="247" width="1636" height="2" fill="#00ff00"/><rect x="4" y="245" width="6" height="6" fill="#00ff00"/><rect x="6" y="247" width="2" height="2" fill="#fff"/><rect x="1635" y="245" width="6" height="6" fill="#00ff00"/><rect x="1637" y="247" width="2" height="2" fill="#fff"/><rect x="5" y="365" width="1636" height="2" fill="#0000ff"/><rect x="4" y="363" width="6" height="6" fill="#0000ff"/><rect x="6" y="365" width="2" height="2" fill="#fff"/><rect x="1635" y="363" width="6" height="6" fill="#0000ff"/><rect x="1637" y="365" width="2" height="2" fill="#fff"/><rect x="5" y="486" width="1636" height="2" fill="#0000ff"/><rect x="4" y="484" width="6" height="6" fill="#0000ff"/><rect x="6" y="486" width="2" height="2" fill="#fff"/><rect x="1635" y="484" width="6" height="6" fill="#0000ff"/><rect x="1637" y="486" width="2" height="2" fill="#fff"/><rect x="1642" y="29" width="2" height="1" fill="#000"/><rect x="1642" y="62" width="2" height="1" fill="#000"/><rect x="1642" y="95" width="2" height="1" fill="#000"/><rect x="1642" y="128" width="2" height="1" fill="#000"/><rect x="1642" y="161" width="2" height="1" fill="#000"/><rect x="1642" y="194" width="2" height="1" fill="#000"/><rect x="1642" y="227" width="2" height="1" fill="#000"/><rect x="1642" y="260" width="2" height="1" fill="#000"/><rect x="1642" y="293" width="2" height="1" fill="#000"/><rect x="1642" y="359" width="2" height="1" fill="#000"/><rect x="1642" y="392" width="2" height="1" fill="#000"/><rect x="1642" y="425" width="2" height="1" fill="#000"/><rect x="1642" y="458" width="2" height="1" fill="#000"/><rect x="1642" y="491" width="2" height="1" fill="#000"/><rect x="1642" y="524" width="2" height="1" fill="#000"/><rect x="1642" y="557" width="2" height="1" fill="#000"/><rect x="1642" y="590" width="2" height="1" fill="#000"/><rect x="1642" y="764" width="2" height="1" fill="#000"/><rect x="5" y="805" width="1" height="3" fill="#000"/><rect x="69" y="805" width="1" height="3" fill="#000"/><rect x="133" y="805" width="1" height="3" fill="#000"/><rect x="197" y="805" width="1" height="3" fill="#000"/><rect x="261" y="805" width="1" height="3" fill="#000"/><rect x="325" y="805" width="1" height="3" fill="#000"/><rect x="389" y="805" width="1" height="3" fill="#000"/><rect x="453" y="805" width="1" height="3" fill="#000"/><rect x="517" y="805" width="1" height="3" fill="#000"/><rect x="581" y="805" width="1" height="3" fill="#000"/><rect x="645" y="805" width="1" height="3" fill="#000"/><rect x="709" y="805" width="1" height="3" fill="#000"/><rect x="773" y="805" width="1" height="3" fill="#000"/><rect x="837" y="805" width="1" height="3" fill="#000"/><rect x="901" y="805" width="1" height="3" fill="#000"/><rect x="965" y="805" width="1" height="3" fill="#000"/><rect x="1029" y="805" width="1" height="3" fill="#000"/><rect x="1093" y="805" width="1" height="3" fill="#000"/><rect x="1157" y="805" width="1" height="3" fill="#000"/><rect x="1221" y="805" width="1" height="3" fill="#000"/><rect x="1285" y="805" width="1" height="3" fill="#000"/></svg>
<div class="a t w" style="left:20px;top:29px">USDCNH,Daily</div>
<div class="a t" style="left:92px;top:29px">6.94258</div>
<div class="a t" style="left:128px;top:29px">6.94337</div>
<div class="a t" style="left:164px;top:29px">6.92121</div>
<div class="a t" style="left:200px;top:29px">6.92250</div>
<div class="a t w" style="left:9px;top:599px;letter-spacing:-0.2px">RSI(14)</div><div class="a t" style="left:44px;top:599px">26.2166</div>
<div class="a t w" style="left:9px;top:705px;letter-spacing:-0.28px">MACD(12,26,9)</div><div class="a t" style="left:78px;top:705px">-0.019676</div><div class="a t" style="left:122px;top:705px">-0.015755</div>
<div class="a t pl" style="top:24px">7.21925</div>
<div class="a t pl" style="top:57px">7.18600</div>
<div class="a t pl" style="top:90px">7.15370</div>
<div class="a t pl" style="top:123px">7.12045</div>
<div class="a t pl" style="top:156px">7.08720</div>
<div class="a t pl" style="top:189px">7.05395</div>
<div class="a t pl" style="top:222px">7.02165</div>
<div class="a t pl" style="top:255px">6.98840</div>
<div class="a t pl" style="top:288px">6.95515</div>
<div class="a t pl" style="top:354px">6.88960</div>
<div class="a t pl" style="top:387px">6.85635</div>
<div class="a t pl" style="top:420px">6.82310</div>
<div class="a t pl" style="top:453px">6.79080</div>
<div class="a t pl" style="top:486px">6.75755</div>
<div class="a t pl" style="top:519px">6.72430</div>
<div class="a t pl" style="top:552px">6.69105</div>
<div class="a t pl" style="top:585px">6.65875</div>
<div class="a t" style="left:1645px;top:596px">100</div>
<div class="a t" style="left:1645px;top:622px">70</div>
<div class="a t" style="left:1645px;top:663px">30</div>
<div class="a t" style="left:1645px;top:687px">0</div>
<div class="a t" style="left:1645px;top:702px">0.063184</div>
<div class="a t" style="left:1645px;top:759px">0.00</div>
<div class="a t" style="left:1645px;top:791px">-0.040355</div>
<div class="a t box" style="top:40px;background:#ff0000">7.20193</div>
<div class="a t box" style="top:142px;background:#ff0000">7.10011</div>
<div class="a t box" style="top:242px;background:#00ff00">7.00029</div>
<div class="a t box" style="top:360px;background:#0000ff">6.88250</div>
<div class="a t box" style="top:481px;background:#0000ff">6.76171</div>
<div class="a t box" style="top:321px;background:#000">6.92250</div>
<div class="a t" style="left:4px;top:808px">19 Dec 2018</div>
<div class="a t" style="left:68px;top:808px">7 Jan 2019</div>
<div class="a t" style="left:132px;top:808px">25 Jan 2019</div>
<div class="a t" style="left:196px;top:808px">13 Feb 2019</div>
<div class="a t" style="left:260px;top:808px">4 Mar 2019</div>
<div class="a t" style="left:324px;top:808px">22 Mar 2019</div>
<div class="a t" style="left:388px;top:808px">10 Apr 2019</div>
<div class="a t" style="left:452px;top:808px">30 Apr 2019</div>
<div class="a t" style="left:516px;top:808px">24 May 2019</div>
<div class="a t" style="left:580px;top:808px">12 Jun 2019</div>
<div class="a t" style="left:644px;top:808px">1 Jul 2019</div>
<div class="a t" style="left:708px;top:808px">19 Jul 2019</div>
<div class="a t" style="left:772px;top:808px">7 Aug 2019</div>
<div class="a t" style="left:836px;top:808px">26 Aug 2019</div>
<div class="a t" style="left:900px;top:808px">13 Sep 2019</div>
<div class="a t" style="left:964px;top:808px">2 Oct 2019</div>
<div class="a t" style="left:1028px;top:808px">21 Oct 2019</div>
<div class="a t" style="left:1092px;top:808px">8 Nov 2019</div>
<div class="a t" style="left:1156px;top:808px">27 Nov 2019</div>
<div class="a t" style="left:1220px;top:808px">16 Dec 2019</div>
<div class="a t" style="left:1284px;top:808px">3 Jan 2020</div>
<div class="a" style="left:418px;top:827px;width:104px;height:18px;background:#fff;border-left:1px solid #000;border-right:1px solid #000;box-sizing:border-box"></div>
<div class="a tab" style="left:18px">EURUSD,Daily</div>
<div class="a tab" style="left:120px">USDCHF,Daily</div>
<div class="a tab" style="left:221px">AUDUSD,Daily</div>
<div class="a tab" style="left:325px">USDCAD,Daily</div>
<div class="a tab" style="left:428px;color:#000">USDCNH,Daily</div>
<div class="a" style="left:110px;top:831px;width:1px;height:13px;background:#808080"></div>
<div class="a" style="left:211px;top:831px;width:1px;height:13px;background:#808080"></div>
<div class="a" style="left:314px;top:831px;width:1px;height:13px;background:#808080"></div>
<div class="a" style="left:1657px;top:833px;width:0;height:0;border-top:3.5px solid transparent;border-bottom:3.5px solid transparent;border-right:4px solid #a0a0a0"></div>
<div class="a" style="left:1676px;top:833px;width:0;height:0;border-top:3.5px solid transparent;border-bottom:3.5px solid transparent;border-left:4px solid #a0a0a0"></div>
</body></html>
